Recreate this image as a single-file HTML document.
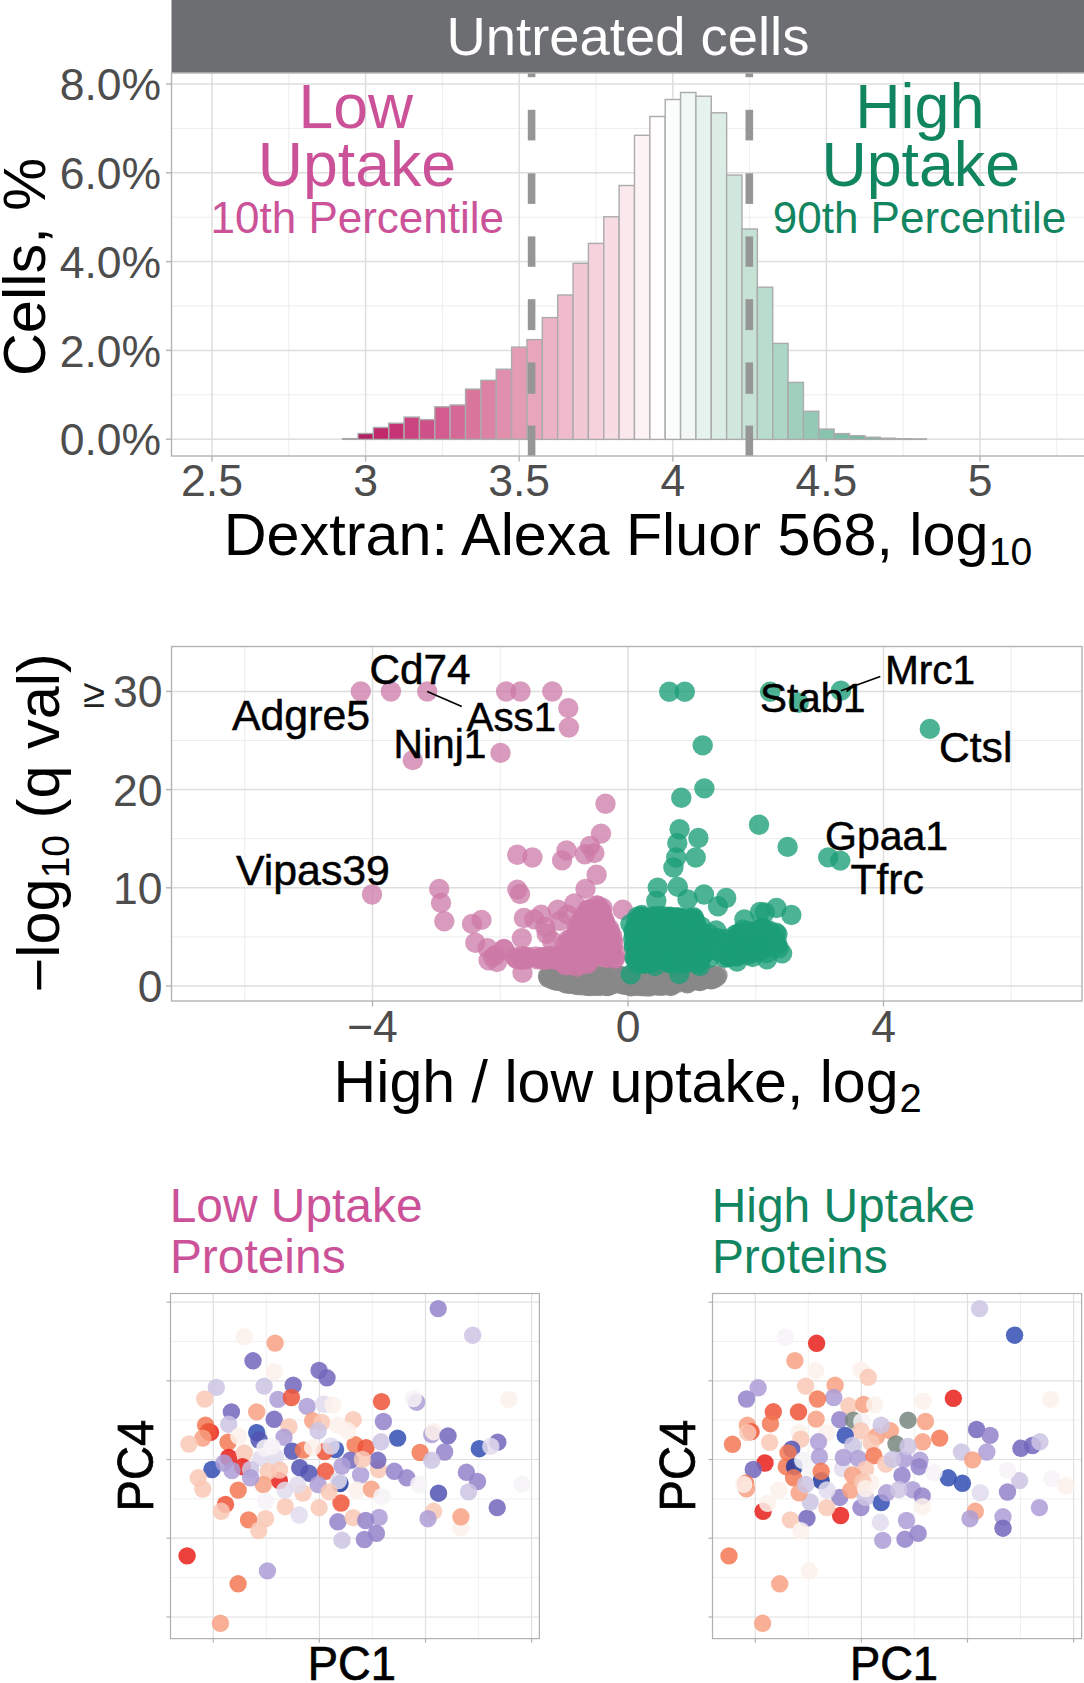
<!DOCTYPE html><html><head><meta charset="utf-8"><title>Dextran uptake</title><style>html,body{margin:0;padding:0;background:#fff}svg{display:block}text{font-family:"Liberation Sans", sans-serif}</style></head><body>
<svg width="1084" height="1683" viewBox="0 0 1084 1683">
<rect width="1084" height="1683" fill="#fff"/>
<rect x="171.5" y="0" width="912.5" height="72.8" fill="#6d6e71"/>
<text x="628" y="55" font-size="54.4" fill="#fff" text-anchor="middle">Untreated cells</text>
<g id="p1">
<clipPath id="c1"><rect x="171.5" y="73" width="912.5" height="383"/></clipPath>
<g clip-path="url(#c1)">
<line x1="288.8" x2="288.8" y1="73" y2="456" stroke="#ebebeb" stroke-width="0.9"/>
<line x1="442.4" x2="442.4" y1="73" y2="456" stroke="#ebebeb" stroke-width="0.9"/>
<line x1="596.0" x2="596.0" y1="73" y2="456" stroke="#ebebeb" stroke-width="0.9"/>
<line x1="749.6" x2="749.6" y1="73" y2="456" stroke="#ebebeb" stroke-width="0.9"/>
<line x1="903.2" x2="903.2" y1="73" y2="456" stroke="#ebebeb" stroke-width="0.9"/>
<line x1="1056.8" x2="1056.8" y1="73" y2="456" stroke="#ebebeb" stroke-width="0.9"/>
<line x1="171.5" x2="1084" y1="394.8" y2="394.8" stroke="#ebebeb" stroke-width="0.9"/>
<line x1="171.5" x2="1084" y1="306.0" y2="306.0" stroke="#ebebeb" stroke-width="0.9"/>
<line x1="171.5" x2="1084" y1="217.2" y2="217.2" stroke="#ebebeb" stroke-width="0.9"/>
<line x1="171.5" x2="1084" y1="128.4" y2="128.4" stroke="#ebebeb" stroke-width="0.9"/>
<line x1="212.0" x2="212.0" y1="73" y2="456" stroke="#dedede" stroke-width="1.5"/>
<line x1="365.6" x2="365.6" y1="73" y2="456" stroke="#dedede" stroke-width="1.5"/>
<line x1="519.2" x2="519.2" y1="73" y2="456" stroke="#dedede" stroke-width="1.5"/>
<line x1="672.8" x2="672.8" y1="73" y2="456" stroke="#dedede" stroke-width="1.5"/>
<line x1="826.4" x2="826.4" y1="73" y2="456" stroke="#dedede" stroke-width="1.5"/>
<line x1="980.0" x2="980.0" y1="73" y2="456" stroke="#dedede" stroke-width="1.5"/>
<line x1="171.5" x2="1084" y1="439.2" y2="439.2" stroke="#dedede" stroke-width="1.5"/>
<line x1="171.5" x2="1084" y1="350.4" y2="350.4" stroke="#dedede" stroke-width="1.5"/>
<line x1="171.5" x2="1084" y1="261.6" y2="261.6" stroke="#dedede" stroke-width="1.5"/>
<line x1="171.5" x2="1084" y1="172.8" y2="172.8" stroke="#dedede" stroke-width="1.5"/>
<line x1="171.5" x2="1084" y1="84.0" y2="84.0" stroke="#dedede" stroke-width="1.5"/>
<rect x="342.64" y="438.6" width="15.36" height="0.80" fill="#aaa" stroke="#a6a6a6" stroke-width="1.3"/>
<rect x="358.00" y="433.5" width="15.36" height="5.9" fill="#b02062" stroke="#acabac" stroke-width="1.4"/>
<rect x="373.36" y="427.5" width="15.36" height="11.9" fill="#c1286c" stroke="#acabac" stroke-width="1.4"/>
<rect x="388.72" y="423.2" width="15.36" height="16.2" fill="#c63476" stroke="#acabac" stroke-width="1.4"/>
<rect x="404.08" y="417.1" width="15.36" height="22.3" fill="#cb4480" stroke="#acabac" stroke-width="1.4"/>
<rect x="419.44" y="419.6" width="15.36" height="19.8" fill="#ce5088" stroke="#acabac" stroke-width="1.4"/>
<rect x="434.80" y="406.8" width="15.36" height="32.6" fill="#d25c90" stroke="#acabac" stroke-width="1.4"/>
<rect x="450.16" y="405.0" width="15.36" height="34.4" fill="#d56896" stroke="#acabac" stroke-width="1.4"/>
<rect x="465.52" y="389.1" width="15.36" height="50.3" fill="#d8769c" stroke="#acabac" stroke-width="1.4"/>
<rect x="480.88" y="380.3" width="15.36" height="59.1" fill="#dc82a3" stroke="#acabac" stroke-width="1.4"/>
<rect x="496.24" y="369.2" width="15.36" height="70.2" fill="#e08fac" stroke="#acabac" stroke-width="1.4"/>
<rect x="511.60" y="347.1" width="15.36" height="92.3" fill="#e49bb4" stroke="#acabac" stroke-width="1.4"/>
<rect x="526.96" y="339.6" width="15.36" height="99.8" fill="#e8a6bc" stroke="#acabac" stroke-width="1.4"/>
<rect x="542.32" y="317.6" width="15.36" height="121.8" fill="#ecb2c6" stroke="#acabac" stroke-width="1.4"/>
<rect x="557.68" y="295.0" width="15.36" height="144.4" fill="#f0bccd" stroke="#acabac" stroke-width="1.4"/>
<rect x="573.04" y="263.3" width="15.36" height="176.1" fill="#f2c8d4" stroke="#acabac" stroke-width="1.4"/>
<rect x="588.40" y="243.4" width="15.36" height="196.0" fill="#f5d2dc" stroke="#acabac" stroke-width="1.4"/>
<rect x="603.76" y="216.8" width="15.36" height="222.6" fill="#f8dce4" stroke="#acabac" stroke-width="1.4"/>
<rect x="619.12" y="185.5" width="15.36" height="253.9" fill="#fae8ec" stroke="#acabac" stroke-width="1.4"/>
<rect x="634.48" y="135.3" width="15.36" height="304.1" fill="#fdf3f5" stroke="#acabac" stroke-width="1.4"/>
<rect x="649.84" y="116.5" width="15.36" height="322.9" fill="#fffdfd" stroke="#acabac" stroke-width="1.4"/>
<rect x="665.20" y="99.5" width="15.36" height="339.9" fill="#fafdfc" stroke="#acabac" stroke-width="1.4"/>
<rect x="680.56" y="92.5" width="15.36" height="346.9" fill="#f0f7f4" stroke="#acabac" stroke-width="1.4"/>
<rect x="695.92" y="96.2" width="15.36" height="343.2" fill="#e6f2ed" stroke="#acabac" stroke-width="1.4"/>
<rect x="711.28" y="112.8" width="15.36" height="326.6" fill="#dcede6" stroke="#acabac" stroke-width="1.4"/>
<rect x="726.64" y="175.1" width="15.36" height="264.3" fill="#d0e7dd" stroke="#acabac" stroke-width="1.4"/>
<rect x="742.00" y="229.0" width="15.36" height="210.4" fill="#c5e2d5" stroke="#acabac" stroke-width="1.4"/>
<rect x="757.36" y="287.2" width="15.36" height="152.2" fill="#b8dccd" stroke="#acabac" stroke-width="1.4"/>
<rect x="772.72" y="343.4" width="15.36" height="96.0" fill="#acd6c5" stroke="#acabac" stroke-width="1.4"/>
<rect x="788.08" y="382.4" width="15.36" height="57.0" fill="#a0d0bd" stroke="#acabac" stroke-width="1.4"/>
<rect x="803.44" y="411.3" width="15.36" height="28.1" fill="#94cab5" stroke="#acabac" stroke-width="1.4"/>
<rect x="818.80" y="429.1" width="15.36" height="10.3" fill="#88c4ad" stroke="#acabac" stroke-width="1.4"/>
<rect x="834.16" y="433.6" width="15.36" height="5.8" fill="#7ebea6" stroke="#acabac" stroke-width="1.4"/>
<rect x="849.52" y="435.7" width="15.36" height="3.7" fill="#76baa0" stroke="#acabac" stroke-width="1.4"/>
<rect x="864.88" y="437.2" width="15.36" height="2.2" fill="#76baa0" stroke="#acabac" stroke-width="1.4"/>
<rect x="880.24" y="438.2" width="15.36" height="1.2" fill="#76baa0" stroke="#acabac" stroke-width="1.4"/>
<rect x="895.60" y="438.7" width="15.36" height="0.7" fill="#76baa0" stroke="#acabac" stroke-width="1.4"/>
<rect x="910.96" y="438.9" width="15.36" height="0.5" fill="#76baa0" stroke="#acabac" stroke-width="1.4"/>
<rect x="527.8" y="46.3" width="7.6" height="30.9" fill="#969696"/>
<rect x="527.8" y="109.8" width="7.6" height="30.6" fill="#969696"/>
<rect x="527.8" y="173.3" width="7.6" height="30.6" fill="#969696"/>
<rect x="527.8" y="236.4" width="7.6" height="30.4" fill="#969696"/>
<rect x="527.8" y="299.2" width="7.6" height="30.9" fill="#969696"/>
<rect x="527.8" y="362.4" width="7.6" height="31.4" fill="#969696"/>
<rect x="527.8" y="425.6" width="7.6" height="31.4" fill="#969696"/>
<rect x="745.5" y="46.3" width="7.6" height="30.9" fill="#969696"/>
<rect x="745.5" y="109.8" width="7.6" height="30.6" fill="#969696"/>
<rect x="745.5" y="173.3" width="7.6" height="30.6" fill="#969696"/>
<rect x="745.5" y="236.4" width="7.6" height="30.4" fill="#969696"/>
<rect x="745.5" y="299.2" width="7.6" height="30.9" fill="#969696"/>
<rect x="745.5" y="362.4" width="7.6" height="31.4" fill="#969696"/>
<rect x="745.5" y="425.6" width="7.6" height="31.4" fill="#969696"/>
</g>
<g fill="#cb5298" text-anchor="middle"><text x="355.8" y="128.2" font-size="62.4">Low</text><text x="357" y="185.8" font-size="62.6">Uptake</text><text x="357.3" y="233" font-size="44">10th Percentile</text></g>
<g fill="#118560" text-anchor="middle"><text x="919.8" y="128" font-size="62.8">High</text><text x="920.7" y="185.8" font-size="62.7">Uptake</text><text x="919.5" y="233" font-size="44">90th Percentile</text></g>
<rect x="171.5" y="73" width="917.5" height="383" fill="none" stroke="#b3b3b3" stroke-width="1.4"/>
<line x1="166.0" x2="171.5" y1="439.2" y2="439.2" stroke="#b3b3b3" stroke-width="1.4"/>
<text x="161.2" y="455.4" font-size="44.5" fill="#4d4d4d" text-anchor="end">0.0%</text>
<line x1="166.0" x2="171.5" y1="350.4" y2="350.4" stroke="#b3b3b3" stroke-width="1.4"/>
<text x="161.2" y="366.6" font-size="44.5" fill="#4d4d4d" text-anchor="end">2.0%</text>
<line x1="166.0" x2="171.5" y1="261.6" y2="261.6" stroke="#b3b3b3" stroke-width="1.4"/>
<text x="161.2" y="277.8" font-size="44.5" fill="#4d4d4d" text-anchor="end">4.0%</text>
<line x1="166.0" x2="171.5" y1="172.8" y2="172.8" stroke="#b3b3b3" stroke-width="1.4"/>
<text x="161.2" y="189.0" font-size="44.5" fill="#4d4d4d" text-anchor="end">6.0%</text>
<line x1="166.0" x2="171.5" y1="84.0" y2="84.0" stroke="#b3b3b3" stroke-width="1.4"/>
<text x="161.2" y="100.2" font-size="44.5" fill="#4d4d4d" text-anchor="end">8.0%</text>
<line x1="212.0" x2="212.0" y1="456" y2="461.5" stroke="#b3b3b3" stroke-width="1.4"/>
<text x="212.0" y="495.6" font-size="44.5" fill="#4d4d4d" text-anchor="middle">2.5</text>
<line x1="365.6" x2="365.6" y1="456" y2="461.5" stroke="#b3b3b3" stroke-width="1.4"/>
<text x="365.6" y="495.6" font-size="44.5" fill="#4d4d4d" text-anchor="middle">3</text>
<line x1="519.2" x2="519.2" y1="456" y2="461.5" stroke="#b3b3b3" stroke-width="1.4"/>
<text x="519.2" y="495.6" font-size="44.5" fill="#4d4d4d" text-anchor="middle">3.5</text>
<line x1="672.8" x2="672.8" y1="456" y2="461.5" stroke="#b3b3b3" stroke-width="1.4"/>
<text x="672.8" y="495.6" font-size="44.5" fill="#4d4d4d" text-anchor="middle">4</text>
<line x1="826.4" x2="826.4" y1="456" y2="461.5" stroke="#b3b3b3" stroke-width="1.4"/>
<text x="826.4" y="495.6" font-size="44.5" fill="#4d4d4d" text-anchor="middle">4.5</text>
<line x1="980.0" x2="980.0" y1="456" y2="461.5" stroke="#b3b3b3" stroke-width="1.4"/>
<text x="980.0" y="495.6" font-size="44.5" fill="#4d4d4d" text-anchor="middle">5</text>
<text x="223.8" y="554.8" font-size="59.3" fill="#000">Dextran: Alexa Fluor 568, log<tspan font-size="39" dy="10.2" dx="0.3">10</tspan></text>
<text transform="translate(45,267) rotate(-90)" font-size="59.5" fill="#000" text-anchor="middle">Cells, %</text>
</g>
<g id="p2">
<line x1="244.8" x2="244.8" y1="646.5" y2="1001" stroke="#ebebeb" stroke-width="0.9"/>
<line x1="500.2" x2="500.2" y1="646.5" y2="1001" stroke="#ebebeb" stroke-width="0.9"/>
<line x1="755.8" x2="755.8" y1="646.5" y2="1001" stroke="#ebebeb" stroke-width="0.9"/>
<line x1="1011.2" x2="1011.2" y1="646.5" y2="1001" stroke="#ebebeb" stroke-width="0.9"/>
<line x1="171.5" x2="1082" y1="936.9" y2="936.9" stroke="#ebebeb" stroke-width="0.9"/>
<line x1="171.5" x2="1082" y1="838.7" y2="838.7" stroke="#ebebeb" stroke-width="0.9"/>
<line x1="171.5" x2="1082" y1="740.5" y2="740.5" stroke="#ebebeb" stroke-width="0.9"/>
<line x1="372.5" x2="372.5" y1="646.5" y2="1001" stroke="#dedede" stroke-width="1.5"/>
<line x1="628.0" x2="628.0" y1="646.5" y2="1001" stroke="#dedede" stroke-width="1.5"/>
<line x1="883.5" x2="883.5" y1="646.5" y2="1001" stroke="#dedede" stroke-width="1.5"/>
<line x1="171.5" x2="1082" y1="986.0" y2="986.0" stroke="#dedede" stroke-width="1.5"/>
<line x1="171.5" x2="1082" y1="887.8" y2="887.8" stroke="#dedede" stroke-width="1.5"/>
<line x1="171.5" x2="1082" y1="789.6" y2="789.6" stroke="#dedede" stroke-width="1.5"/>
<line x1="171.5" x2="1082" y1="691.4" y2="691.4" stroke="#dedede" stroke-width="1.5"/>
<g fill="#888888" fill-opacity="0.8">
<circle cx="603.1" cy="984.6" r="10.2"/>
<circle cx="658.7" cy="985.5" r="10.2"/>
<circle cx="639.1" cy="982.2" r="10.2"/>
<circle cx="557.9" cy="980.6" r="10.2"/>
<circle cx="620.2" cy="977.0" r="10.2"/>
<circle cx="569.0" cy="983.8" r="10.2"/>
<circle cx="654.7" cy="975.6" r="10.2"/>
<circle cx="646.1" cy="981.8" r="10.2"/>
<circle cx="600.4" cy="977.1" r="10.2"/>
<circle cx="578.7" cy="979.7" r="10.2"/>
<circle cx="656.6" cy="982.1" r="10.2"/>
<circle cx="641.1" cy="985.6" r="10.2"/>
<circle cx="663.7" cy="981.5" r="10.2"/>
<circle cx="601.4" cy="979.7" r="10.2"/>
<circle cx="625.0" cy="982.9" r="10.2"/>
<circle cx="683.0" cy="978.4" r="10.2"/>
<circle cx="589.5" cy="979.8" r="10.2"/>
<circle cx="637.3" cy="976.4" r="10.2"/>
<circle cx="672.0" cy="983.0" r="10.2"/>
<circle cx="619.1" cy="977.7" r="10.2"/>
<circle cx="573.8" cy="980.8" r="10.2"/>
<circle cx="554.7" cy="978.7" r="10.2"/>
<circle cx="678.0" cy="979.8" r="10.2"/>
<circle cx="666.2" cy="979.6" r="10.2"/>
<circle cx="646.6" cy="981.1" r="10.2"/>
<circle cx="690.8" cy="975.6" r="10.2"/>
<circle cx="628.6" cy="978.8" r="10.2"/>
<circle cx="558.3" cy="978.4" r="10.2"/>
<circle cx="687.7" cy="983.1" r="10.2"/>
<circle cx="613.6" cy="978.7" r="10.2"/>
<circle cx="576.6" cy="985.0" r="10.2"/>
<circle cx="558.0" cy="977.6" r="10.2"/>
<circle cx="570.0" cy="983.5" r="10.2"/>
<circle cx="614.5" cy="976.5" r="10.2"/>
<circle cx="561.7" cy="981.2" r="10.2"/>
<circle cx="641.4" cy="976.3" r="10.2"/>
<circle cx="687.3" cy="976.5" r="10.2"/>
<circle cx="595.3" cy="981.6" r="10.2"/>
<circle cx="609.0" cy="976.3" r="10.2"/>
<circle cx="578.0" cy="983.7" r="10.2"/>
<circle cx="587.7" cy="980.8" r="10.2"/>
<circle cx="648.2" cy="983.3" r="10.2"/>
<circle cx="610.8" cy="979.9" r="10.2"/>
<circle cx="710.0" cy="978.5" r="10.2"/>
<circle cx="635.6" cy="979.3" r="10.2"/>
<circle cx="663.0" cy="985.7" r="10.2"/>
<circle cx="700.9" cy="977.5" r="10.2"/>
<circle cx="696.7" cy="977.3" r="10.2"/>
<circle cx="614.7" cy="981.8" r="10.2"/>
<circle cx="565.6" cy="979.1" r="10.2"/>
<circle cx="583.5" cy="984.5" r="10.2"/>
<circle cx="605.8" cy="985.7" r="10.2"/>
<circle cx="565.2" cy="982.2" r="10.2"/>
<circle cx="552.3" cy="976.4" r="10.2"/>
<circle cx="652.4" cy="984.6" r="10.2"/>
<circle cx="590.9" cy="982.4" r="10.2"/>
<circle cx="609.9" cy="984.9" r="10.2"/>
<circle cx="692.3" cy="975.1" r="10.2"/>
<circle cx="627.2" cy="980.8" r="10.2"/>
<circle cx="606.2" cy="983.3" r="10.2"/>
<circle cx="637.8" cy="984.6" r="10.2"/>
<circle cx="640.3" cy="986.0" r="10.2"/>
<circle cx="637.8" cy="975.2" r="10.2"/>
<circle cx="694.8" cy="978.4" r="10.2"/>
<circle cx="592.4" cy="982.2" r="10.2"/>
<circle cx="576.4" cy="977.6" r="10.2"/>
<circle cx="638.5" cy="977.5" r="10.2"/>
<circle cx="604.0" cy="983.8" r="10.2"/>
<circle cx="686.0" cy="975.2" r="10.2"/>
<circle cx="692.9" cy="977.2" r="10.2"/>
<circle cx="687.1" cy="977.9" r="10.2"/>
<circle cx="586.5" cy="980.5" r="10.2"/>
<circle cx="608.4" cy="986.0" r="10.2"/>
<circle cx="592.1" cy="978.5" r="10.2"/>
<circle cx="585.5" cy="983.7" r="10.2"/>
<circle cx="581.4" cy="984.0" r="10.2"/>
<circle cx="654.1" cy="976.1" r="10.2"/>
<circle cx="690.9" cy="980.9" r="10.2"/>
<circle cx="659.0" cy="977.3" r="10.2"/>
<circle cx="562.4" cy="978.8" r="10.2"/>
<circle cx="702.7" cy="977.5" r="10.2"/>
<circle cx="675.5" cy="980.9" r="10.2"/>
<circle cx="578.3" cy="977.4" r="10.2"/>
<circle cx="604.5" cy="977.3" r="10.2"/>
<circle cx="616.2" cy="975.6" r="10.2"/>
<circle cx="671.2" cy="984.4" r="10.2"/>
<circle cx="701.8" cy="977.2" r="10.2"/>
<circle cx="572.8" cy="977.0" r="10.2"/>
<circle cx="607.6" cy="980.1" r="10.2"/>
<circle cx="713.1" cy="979.0" r="10.2"/>
<circle cx="637.5" cy="975.8" r="10.2"/>
<circle cx="621.7" cy="976.4" r="10.2"/>
<circle cx="590.8" cy="983.0" r="10.2"/>
<circle cx="588.9" cy="979.7" r="10.2"/>
<circle cx="592.1" cy="981.6" r="10.2"/>
<circle cx="570.3" cy="976.0" r="10.2"/>
<circle cx="608.1" cy="981.1" r="10.2"/>
<circle cx="647.2" cy="976.1" r="10.2"/>
<circle cx="619.5" cy="975.9" r="10.2"/>
<circle cx="633.3" cy="980.3" r="10.2"/>
<circle cx="637.0" cy="986.1" r="10.2"/>
<circle cx="622.8" cy="984.2" r="10.2"/>
<circle cx="548.7" cy="977.3" r="10.2"/>
<circle cx="577.3" cy="980.9" r="10.2"/>
<circle cx="671.3" cy="980.0" r="10.2"/>
<circle cx="603.4" cy="980.4" r="10.2"/>
<circle cx="642.4" cy="977.4" r="10.2"/>
<circle cx="566.0" cy="980.0" r="10.2"/>
<circle cx="590.2" cy="983.2" r="10.2"/>
<circle cx="679.3" cy="980.6" r="10.2"/>
<circle cx="643.5" cy="977.7" r="10.2"/>
<circle cx="652.1" cy="980.6" r="10.2"/>
<circle cx="635.1" cy="978.5" r="10.2"/>
<circle cx="624.9" cy="980.3" r="10.2"/>
<circle cx="629.3" cy="975.7" r="10.2"/>
<circle cx="666.9" cy="976.4" r="10.2"/>
<circle cx="643.1" cy="975.6" r="10.2"/>
<circle cx="568.7" cy="981.3" r="10.2"/>
<circle cx="560.4" cy="978.7" r="10.2"/>
<circle cx="681.3" cy="976.2" r="10.2"/>
<circle cx="574.3" cy="978.2" r="10.2"/>
<circle cx="660.2" cy="984.7" r="10.2"/>
<circle cx="698.1" cy="975.4" r="10.2"/>
<circle cx="585.3" cy="975.5" r="10.2"/>
<circle cx="615.7" cy="980.8" r="10.2"/>
<circle cx="716.3" cy="976.9" r="10.2"/>
<circle cx="575.4" cy="981.4" r="10.2"/>
<circle cx="635.7" cy="982.5" r="10.2"/>
<circle cx="581.3" cy="982.7" r="10.2"/>
<circle cx="670.8" cy="986.1" r="10.2"/>
<circle cx="642.2" cy="981.3" r="10.2"/>
<circle cx="654.1" cy="980.5" r="10.2"/>
<circle cx="682.0" cy="975.3" r="10.2"/>
<circle cx="565.8" cy="983.3" r="10.2"/>
<circle cx="554.7" cy="977.5" r="10.2"/>
<circle cx="594.0" cy="984.8" r="10.2"/>
<circle cx="619.8" cy="976.0" r="10.2"/>
<circle cx="687.2" cy="983.4" r="10.2"/>
<circle cx="573.4" cy="975.9" r="10.2"/>
<circle cx="645.0" cy="978.4" r="10.2"/>
<circle cx="665.0" cy="981.5" r="10.2"/>
<circle cx="560.3" cy="975.7" r="10.2"/>
<circle cx="655.9" cy="977.2" r="10.2"/>
<circle cx="562.2" cy="976.6" r="10.2"/>
<circle cx="559.3" cy="976.6" r="10.2"/>
<circle cx="625.1" cy="982.5" r="10.2"/>
<circle cx="642.0" cy="975.8" r="10.2"/>
<circle cx="593.5" cy="984.8" r="10.2"/>
<circle cx="637.6" cy="983.6" r="10.2"/>
<circle cx="601.0" cy="982.9" r="10.2"/>
<circle cx="677.1" cy="983.0" r="10.2"/>
<circle cx="633.0" cy="984.3" r="10.2"/>
<circle cx="607.0" cy="986.1" r="10.2"/>
<circle cx="590.6" cy="986.1" r="10.2"/>
<circle cx="672.6" cy="980.1" r="10.2"/>
<circle cx="580.2" cy="980.9" r="10.2"/>
<circle cx="687.2" cy="981.4" r="10.2"/>
<circle cx="632.2" cy="976.9" r="10.2"/>
<circle cx="614.8" cy="980.6" r="10.2"/>
<circle cx="664.9" cy="975.2" r="10.2"/>
<circle cx="606.3" cy="976.9" r="10.2"/>
<circle cx="668.1" cy="979.1" r="10.2"/>
<circle cx="616.8" cy="982.4" r="10.2"/>
<circle cx="560.0" cy="977.9" r="10.2"/>
<circle cx="591.5" cy="984.5" r="10.2"/>
<circle cx="562.4" cy="976.8" r="10.2"/>
<circle cx="696.0" cy="978.7" r="10.2"/>
<circle cx="595.9" cy="983.6" r="10.2"/>
<circle cx="597.8" cy="981.1" r="10.2"/>
<circle cx="574.8" cy="981.3" r="10.2"/>
<circle cx="592.8" cy="975.4" r="10.2"/>
<circle cx="589.6" cy="975.4" r="10.2"/>
<circle cx="600.6" cy="982.3" r="10.2"/>
<circle cx="628.7" cy="980.6" r="10.2"/>
<circle cx="582.2" cy="980.6" r="10.2"/>
<circle cx="563.3" cy="981.8" r="10.2"/>
<circle cx="599.7" cy="983.7" r="10.2"/>
<circle cx="647.5" cy="980.3" r="10.2"/>
<circle cx="675.6" cy="978.9" r="10.2"/>
<circle cx="669.7" cy="976.4" r="10.2"/>
<circle cx="614.2" cy="982.6" r="10.2"/>
<circle cx="671.1" cy="979.0" r="10.2"/>
<circle cx="555.4" cy="976.9" r="10.2"/>
<circle cx="699.6" cy="979.2" r="10.2"/>
<circle cx="672.8" cy="977.1" r="10.2"/>
<circle cx="571.7" cy="980.4" r="10.2"/>
<circle cx="633.7" cy="976.9" r="10.2"/>
<circle cx="684.8" cy="977.0" r="10.2"/>
<circle cx="647.3" cy="976.2" r="10.2"/>
<circle cx="664.1" cy="978.5" r="10.2"/>
<circle cx="587.1" cy="985.9" r="10.2"/>
<circle cx="570.6" cy="982.2" r="10.2"/>
<circle cx="565.8" cy="976.9" r="10.2"/>
<circle cx="642.9" cy="979.2" r="10.2"/>
<circle cx="654.5" cy="978.6" r="10.2"/>
<circle cx="631.2" cy="986.3" r="10.2"/>
<circle cx="683.6" cy="977.8" r="10.2"/>
<circle cx="633.5" cy="980.3" r="10.2"/>
<circle cx="660.1" cy="985.6" r="10.2"/>
<circle cx="673.3" cy="983.5" r="10.2"/>
<circle cx="672.0" cy="984.0" r="10.2"/>
<circle cx="673.8" cy="975.3" r="10.2"/>
<circle cx="632.0" cy="982.0" r="10.2"/>
<circle cx="629.4" cy="978.6" r="10.2"/>
<circle cx="678.4" cy="979.3" r="10.2"/>
<circle cx="657.3" cy="985.4" r="10.2"/>
<circle cx="573.1" cy="983.4" r="10.2"/>
<circle cx="674.3" cy="982.9" r="10.2"/>
<circle cx="644.5" cy="986.2" r="10.2"/>
<circle cx="662.2" cy="978.5" r="10.2"/>
<circle cx="662.9" cy="983.0" r="10.2"/>
<circle cx="635.8" cy="981.0" r="10.2"/>
<circle cx="627.3" cy="985.0" r="10.2"/>
<circle cx="714.3" cy="975.7" r="10.2"/>
<circle cx="687.4" cy="975.4" r="10.2"/>
<circle cx="624.4" cy="983.3" r="10.2"/>
<circle cx="583.7" cy="975.6" r="10.2"/>
<circle cx="583.8" cy="979.7" r="10.2"/>
<circle cx="572.1" cy="980.4" r="10.2"/>
<circle cx="687.4" cy="980.6" r="10.2"/>
<circle cx="698.8" cy="978.4" r="10.2"/>
<circle cx="587.3" cy="976.2" r="10.2"/>
<circle cx="630.6" cy="986.0" r="10.2"/>
<circle cx="624.6" cy="982.9" r="10.2"/>
<circle cx="571.9" cy="982.4" r="10.2"/>
<circle cx="601.7" cy="976.8" r="10.2"/>
<circle cx="705.5" cy="978.2" r="10.2"/>
<circle cx="611.3" cy="981.9" r="10.2"/>
<circle cx="609.3" cy="981.5" r="10.2"/>
<circle cx="594.8" cy="985.8" r="10.2"/>
<circle cx="565.3" cy="976.9" r="10.2"/>
<circle cx="596.6" cy="975.7" r="10.2"/>
<circle cx="590.4" cy="983.3" r="10.2"/>
<circle cx="634.9" cy="984.2" r="10.2"/>
<circle cx="611.5" cy="975.5" r="10.2"/>
<circle cx="698.3" cy="977.1" r="10.2"/>
<circle cx="655.3" cy="976.0" r="10.2"/>
<circle cx="670.3" cy="985.7" r="10.2"/>
<circle cx="672.5" cy="981.2" r="10.2"/>
<circle cx="676.0" cy="979.0" r="10.2"/>
<circle cx="596.7" cy="985.7" r="10.2"/>
<circle cx="628.3" cy="982.4" r="10.2"/>
<circle cx="598.6" cy="977.9" r="10.2"/>
<circle cx="659.5" cy="982.9" r="10.2"/>
<circle cx="642.7" cy="981.8" r="10.2"/>
<circle cx="576.4" cy="984.5" r="10.2"/>
<circle cx="583.3" cy="976.1" r="10.2"/>
<circle cx="632.5" cy="983.8" r="10.2"/>
<circle cx="624.5" cy="984.7" r="10.2"/>
<circle cx="580.7" cy="985.3" r="10.2"/>
<circle cx="606.1" cy="985.3" r="10.2"/>
<circle cx="588.7" cy="983.4" r="10.2"/>
<circle cx="644.8" cy="976.3" r="10.2"/>
<circle cx="675.4" cy="981.6" r="10.2"/>
<circle cx="618.4" cy="980.4" r="10.2"/>
<circle cx="612.1" cy="982.5" r="10.2"/>
<circle cx="633.6" cy="979.2" r="10.2"/>
<circle cx="594.1" cy="983.5" r="10.2"/>
<circle cx="616.0" cy="981.3" r="10.2"/>
<circle cx="710.2" cy="976.7" r="10.2"/>
<circle cx="553.5" cy="978.3" r="10.2"/>
<circle cx="700.3" cy="981.0" r="10.2"/>
<circle cx="647.8" cy="986.3" r="10.2"/>
<circle cx="614.6" cy="975.8" r="10.2"/>
<circle cx="688.4" cy="976.6" r="10.2"/>
<circle cx="636.8" cy="978.6" r="10.2"/>
<circle cx="708.1" cy="978.1" r="10.2"/>
<circle cx="658.0" cy="977.7" r="10.2"/>
<circle cx="625.7" cy="980.1" r="10.2"/>
<circle cx="554.7" cy="977.5" r="10.2"/>
<circle cx="587.5" cy="975.9" r="10.2"/>
<circle cx="657.7" cy="982.9" r="10.2"/>
<circle cx="569.8" cy="983.5" r="10.2"/>
<circle cx="656.2" cy="978.4" r="10.2"/>
<circle cx="637.2" cy="979.7" r="10.2"/>
<circle cx="614.0" cy="983.8" r="10.2"/>
<circle cx="650.2" cy="986.2" r="10.2"/>
<circle cx="599.3" cy="981.1" r="10.2"/>
<circle cx="711.0" cy="979.0" r="10.2"/>
<circle cx="698.2" cy="980.9" r="10.2"/>
<circle cx="587.9" cy="983.5" r="10.2"/>
<circle cx="711.3" cy="978.3" r="10.2"/>
<circle cx="600.3" cy="986.1" r="10.2"/>
<circle cx="632.7" cy="978.7" r="10.2"/>
<circle cx="619.4" cy="983.4" r="10.2"/>
<circle cx="661.5" cy="975.8" r="10.2"/>
<circle cx="586.6" cy="985.9" r="10.2"/>
<circle cx="605.5" cy="981.5" r="10.2"/>
<circle cx="664.0" cy="984.1" r="10.2"/>
<circle cx="683.5" cy="977.9" r="10.2"/>
<circle cx="633.8" cy="984.0" r="10.2"/>
<circle cx="585.6" cy="977.7" r="10.2"/>
<circle cx="598.1" cy="975.5" r="10.2"/>
<circle cx="632.3" cy="984.2" r="10.2"/>
<circle cx="586.0" cy="981.6" r="10.2"/>
<circle cx="661.1" cy="975.6" r="10.2"/>
<circle cx="572.9" cy="981.9" r="10.2"/>
<circle cx="700.7" cy="976.3" r="10.2"/>
<circle cx="579.5" cy="975.7" r="10.2"/>
<circle cx="661.0" cy="982.0" r="10.2"/>
<circle cx="611.6" cy="982.6" r="10.2"/>
<circle cx="595.6" cy="982.3" r="10.2"/>
<circle cx="608.6" cy="977.0" r="10.2"/>
<circle cx="687.7" cy="981.4" r="10.2"/>
<circle cx="556.4" cy="980.9" r="10.2"/>
<circle cx="611.4" cy="975.9" r="10.2"/>
<circle cx="580.8" cy="982.2" r="10.2"/>
<circle cx="617.8" cy="977.1" r="10.2"/>
<circle cx="675.0" cy="976.1" r="10.2"/>
<circle cx="605.6" cy="983.2" r="10.2"/>
<circle cx="710.8" cy="979.3" r="10.2"/>
<circle cx="592.6" cy="978.2" r="10.2"/>
<circle cx="601.8" cy="983.2" r="10.2"/>
<circle cx="548.6" cy="977.8" r="10.2"/>
<circle cx="703.8" cy="979.1" r="10.2"/>
<circle cx="587.8" cy="980.9" r="10.2"/>
<circle cx="710.7" cy="975.5" r="10.2"/>
<circle cx="613.7" cy="983.5" r="10.2"/>
<circle cx="621.1" cy="980.7" r="10.2"/>
<circle cx="684.4" cy="978.0" r="10.2"/>
<circle cx="687.9" cy="977.6" r="10.2"/>
<circle cx="651.2" cy="982.6" r="10.2"/>
<circle cx="602.3" cy="982.2" r="10.2"/>
<circle cx="581.5" cy="977.8" r="10.2"/>
<circle cx="590.0" cy="985.6" r="10.2"/>
<circle cx="553.8" cy="980.1" r="10.2"/>
<circle cx="698.2" cy="975.1" r="10.2"/>
<circle cx="593.0" cy="985.3" r="10.2"/>
<circle cx="564.4" cy="980.7" r="10.2"/>
<circle cx="668.7" cy="981.2" r="10.2"/>
<circle cx="548.0" cy="976.0" r="10.2"/>
<circle cx="552.0" cy="979.0" r="10.2"/>
<circle cx="717.5" cy="975.5" r="10.2"/>
<circle cx="712.0" cy="978.0" r="10.2"/>
<circle cx="700.0" cy="981.0" r="10.2"/>
</g>
<g fill="#cc79a7" fill-opacity="0.75">
<circle cx="360.8" cy="691.5" r="10.2"/>
<circle cx="390.9" cy="691.5" r="10.2"/>
<circle cx="427.2" cy="691.5" r="10.2"/>
<circle cx="506.1" cy="691.5" r="10.2"/>
<circle cx="520.5" cy="691.5" r="10.2"/>
<circle cx="552.3" cy="691.5" r="10.2"/>
<circle cx="568.3" cy="708.1" r="10.2"/>
<circle cx="568.9" cy="727.5" r="10.2"/>
<circle cx="500.5" cy="752.9" r="10.2"/>
<circle cx="412.8" cy="760.1" r="10.2"/>
<circle cx="605.5" cy="803.7" r="10.2"/>
<circle cx="601.0" cy="833.6" r="10.2"/>
<circle cx="590.0" cy="846.0" r="10.2"/>
<circle cx="584.9" cy="854.2" r="10.2"/>
<circle cx="594.4" cy="853.1" r="10.2"/>
<circle cx="566.5" cy="850.4" r="10.2"/>
<circle cx="562.1" cy="860.4" r="10.2"/>
<circle cx="517.3" cy="854.8" r="10.2"/>
<circle cx="532.4" cy="857.5" r="10.2"/>
<circle cx="596.6" cy="874.8" r="10.2"/>
<circle cx="585.5" cy="888.9" r="10.2"/>
<circle cx="439.2" cy="888.9" r="10.2"/>
<circle cx="441.0" cy="902.9" r="10.2"/>
<circle cx="444.3" cy="921.3" r="10.2"/>
<circle cx="517.3" cy="889.6" r="10.2"/>
<circle cx="520.0" cy="894.0" r="10.2"/>
<circle cx="472.0" cy="923.9" r="10.2"/>
<circle cx="481.5" cy="919.9" r="10.2"/>
<circle cx="475.3" cy="942.7" r="10.2"/>
<circle cx="487.5" cy="948.3" r="10.2"/>
<circle cx="493.0" cy="957.1" r="10.2"/>
<circle cx="488.6" cy="960.4" r="10.2"/>
<circle cx="504.0" cy="949.4" r="10.2"/>
<circle cx="521.8" cy="938.1" r="10.2"/>
<circle cx="523.9" cy="918.0" r="10.2"/>
<circle cx="534.3" cy="919.4" r="10.2"/>
<circle cx="541.2" cy="914.6" r="10.2"/>
<circle cx="546.7" cy="934.0" r="10.2"/>
<circle cx="545.3" cy="927.0" r="10.2"/>
<circle cx="557.8" cy="909.7" r="10.2"/>
<circle cx="567.5" cy="914.6" r="10.2"/>
<circle cx="574.4" cy="903.5" r="10.2"/>
<circle cx="622.8" cy="909.7" r="10.2"/>
<circle cx="522.5" cy="972.7" r="10.2"/>
<circle cx="515.0" cy="957.0" r="10.2"/>
<circle cx="372.0" cy="894.5" r="10.2"/>
<circle cx="495.5" cy="955.0" r="10.2"/>
<circle cx="503.8" cy="949.0" r="10.2"/>
<circle cx="497.0" cy="962.0" r="10.2"/>
<circle cx="560.0" cy="921.0" r="10.2"/>
<circle cx="552.0" cy="941.0" r="10.2"/>
<circle cx="525.8" cy="958.4" r="10.2"/>
<circle cx="542.1" cy="957.1" r="10.2"/>
<circle cx="547.4" cy="956.3" r="10.2"/>
<circle cx="543.9" cy="959.9" r="10.2"/>
<circle cx="551.3" cy="959.0" r="10.2"/>
<circle cx="539.8" cy="958.6" r="10.2"/>
<circle cx="547.0" cy="959.5" r="10.2"/>
<circle cx="526.4" cy="959.3" r="10.2"/>
<circle cx="522.4" cy="956.1" r="10.2"/>
<circle cx="540.3" cy="958.9" r="10.2"/>
<circle cx="537.3" cy="959.3" r="10.2"/>
<circle cx="550.0" cy="957.2" r="10.2"/>
<circle cx="557.6" cy="960.0" r="10.2"/>
<circle cx="535.9" cy="956.4" r="10.2"/>
<circle cx="551.3" cy="955.9" r="10.2"/>
<circle cx="517.7" cy="959.0" r="10.2"/>
<circle cx="521.0" cy="959.6" r="10.2"/>
<circle cx="556.9" cy="957.6" r="10.2"/>
<circle cx="555.1" cy="958.6" r="10.2"/>
<circle cx="552.4" cy="958.3" r="10.2"/>
<circle cx="526.9" cy="956.6" r="10.2"/>
<circle cx="555.7" cy="960.0" r="10.2"/>
<circle cx="541.0" cy="957.4" r="10.2"/>
<circle cx="525.1" cy="958.7" r="10.2"/>
<circle cx="521.9" cy="959.5" r="10.2"/>
<circle cx="526.7" cy="957.5" r="10.2"/>
<circle cx="543.4" cy="959.5" r="10.2"/>
<circle cx="516.5" cy="958.9" r="10.2"/>
<circle cx="598.7" cy="955.4" r="10.2"/>
<circle cx="576.7" cy="954.3" r="10.2"/>
<circle cx="605.7" cy="932.7" r="10.2"/>
<circle cx="561.8" cy="960.7" r="10.2"/>
<circle cx="581.7" cy="932.6" r="10.2"/>
<circle cx="582.6" cy="949.3" r="10.2"/>
<circle cx="576.7" cy="931.6" r="10.2"/>
<circle cx="579.4" cy="941.0" r="10.2"/>
<circle cx="579.8" cy="954.7" r="10.2"/>
<circle cx="601.7" cy="954.3" r="10.2"/>
<circle cx="583.4" cy="915.7" r="10.2"/>
<circle cx="585.7" cy="956.8" r="10.2"/>
<circle cx="596.4" cy="910.1" r="10.2"/>
<circle cx="580.3" cy="935.5" r="10.2"/>
<circle cx="566.8" cy="949.3" r="10.2"/>
<circle cx="589.3" cy="909.2" r="10.2"/>
<circle cx="569.8" cy="959.1" r="10.2"/>
<circle cx="587.0" cy="963.7" r="10.2"/>
<circle cx="613.6" cy="942.8" r="10.2"/>
<circle cx="607.5" cy="957.0" r="10.2"/>
<circle cx="605.1" cy="953.1" r="10.2"/>
<circle cx="607.8" cy="955.6" r="10.2"/>
<circle cx="571.1" cy="942.0" r="10.2"/>
<circle cx="589.1" cy="943.0" r="10.2"/>
<circle cx="565.4" cy="951.6" r="10.2"/>
<circle cx="601.5" cy="910.9" r="10.2"/>
<circle cx="594.0" cy="932.6" r="10.2"/>
<circle cx="595.6" cy="947.9" r="10.2"/>
<circle cx="583.2" cy="930.6" r="10.2"/>
<circle cx="583.5" cy="925.8" r="10.2"/>
<circle cx="584.8" cy="939.6" r="10.2"/>
<circle cx="587.4" cy="952.3" r="10.2"/>
<circle cx="603.8" cy="918.3" r="10.2"/>
<circle cx="585.5" cy="955.8" r="10.2"/>
<circle cx="586.4" cy="960.3" r="10.2"/>
<circle cx="602.0" cy="918.4" r="10.2"/>
<circle cx="588.2" cy="943.4" r="10.2"/>
<circle cx="615.1" cy="958.5" r="10.2"/>
<circle cx="601.9" cy="916.1" r="10.2"/>
<circle cx="613.0" cy="956.7" r="10.2"/>
<circle cx="603.4" cy="957.1" r="10.2"/>
<circle cx="611.8" cy="949.8" r="10.2"/>
<circle cx="606.9" cy="958.0" r="10.2"/>
<circle cx="588.1" cy="909.5" r="10.2"/>
<circle cx="570.5" cy="950.6" r="10.2"/>
<circle cx="588.4" cy="947.1" r="10.2"/>
<circle cx="560.2" cy="955.6" r="10.2"/>
<circle cx="598.8" cy="911.0" r="10.2"/>
<circle cx="596.2" cy="944.5" r="10.2"/>
<circle cx="610.4" cy="932.3" r="10.2"/>
<circle cx="592.8" cy="911.8" r="10.2"/>
<circle cx="595.8" cy="942.4" r="10.2"/>
<circle cx="605.9" cy="950.5" r="10.2"/>
<circle cx="584.5" cy="956.0" r="10.2"/>
<circle cx="607.2" cy="951.1" r="10.2"/>
<circle cx="596.4" cy="905.5" r="10.2"/>
<circle cx="593.2" cy="925.5" r="10.2"/>
<circle cx="576.8" cy="966.9" r="10.2"/>
<circle cx="560.0" cy="957.7" r="10.2"/>
<circle cx="595.0" cy="940.0" r="10.2"/>
<circle cx="588.8" cy="911.0" r="10.2"/>
<circle cx="565.9" cy="952.8" r="10.2"/>
<circle cx="564.4" cy="944.7" r="10.2"/>
<circle cx="593.3" cy="954.2" r="10.2"/>
<circle cx="595.4" cy="937.3" r="10.2"/>
<circle cx="572.6" cy="957.7" r="10.2"/>
<circle cx="582.1" cy="950.5" r="10.2"/>
<circle cx="591.7" cy="945.1" r="10.2"/>
<circle cx="596.7" cy="939.3" r="10.2"/>
<circle cx="582.4" cy="952.1" r="10.2"/>
<circle cx="614.5" cy="958.1" r="10.2"/>
<circle cx="588.4" cy="926.9" r="10.2"/>
<circle cx="606.8" cy="956.1" r="10.2"/>
<circle cx="576.6" cy="948.2" r="10.2"/>
<circle cx="605.0" cy="922.3" r="10.2"/>
<circle cx="602.7" cy="937.9" r="10.2"/>
<circle cx="602.5" cy="938.7" r="10.2"/>
<circle cx="571.6" cy="960.4" r="10.2"/>
<circle cx="571.9" cy="964.6" r="10.2"/>
<circle cx="599.7" cy="914.2" r="10.2"/>
<circle cx="600.7" cy="950.4" r="10.2"/>
<circle cx="591.2" cy="939.7" r="10.2"/>
<circle cx="605.3" cy="934.3" r="10.2"/>
<circle cx="615.9" cy="953.4" r="10.2"/>
<circle cx="573.6" cy="952.2" r="10.2"/>
<circle cx="602.6" cy="908.0" r="10.2"/>
<circle cx="602.8" cy="946.6" r="10.2"/>
<circle cx="610.8" cy="946.5" r="10.2"/>
<circle cx="595.8" cy="923.7" r="10.2"/>
<circle cx="597.9" cy="905.8" r="10.2"/>
<circle cx="586.2" cy="914.5" r="10.2"/>
<circle cx="599.9" cy="913.4" r="10.2"/>
<circle cx="584.2" cy="921.7" r="10.2"/>
<circle cx="592.2" cy="947.8" r="10.2"/>
<circle cx="566.7" cy="965.3" r="10.2"/>
<circle cx="578.7" cy="958.1" r="10.2"/>
<circle cx="599.6" cy="927.4" r="10.2"/>
<circle cx="599.8" cy="921.0" r="10.2"/>
<circle cx="564.4" cy="954.1" r="10.2"/>
<circle cx="564.7" cy="964.8" r="10.2"/>
<circle cx="596.1" cy="915.4" r="10.2"/>
<circle cx="595.9" cy="949.0" r="10.2"/>
<circle cx="564.0" cy="960.9" r="10.2"/>
<circle cx="603.4" cy="954.2" r="10.2"/>
<circle cx="577.1" cy="940.5" r="10.2"/>
<circle cx="580.1" cy="946.9" r="10.2"/>
<circle cx="609.1" cy="928.4" r="10.2"/>
<circle cx="584.2" cy="918.7" r="10.2"/>
<circle cx="578.8" cy="923.0" r="10.2"/>
<circle cx="590.3" cy="953.5" r="10.2"/>
<circle cx="607.2" cy="956.4" r="10.2"/>
<circle cx="587.5" cy="917.2" r="10.2"/>
<circle cx="575.0" cy="953.6" r="10.2"/>
<circle cx="600.0" cy="935.9" r="10.2"/>
<circle cx="599.8" cy="917.8" r="10.2"/>
<circle cx="595.7" cy="944.8" r="10.2"/>
<circle cx="582.1" cy="942.3" r="10.2"/>
<circle cx="570.4" cy="950.6" r="10.2"/>
<circle cx="612.1" cy="935.7" r="10.2"/>
<circle cx="572.0" cy="938.2" r="10.2"/>
<circle cx="589.9" cy="919.8" r="10.2"/>
<circle cx="603.2" cy="926.6" r="10.2"/>
<circle cx="578.9" cy="946.6" r="10.2"/>
<circle cx="597.7" cy="920.6" r="10.2"/>
<circle cx="568.2" cy="939.6" r="10.2"/>
<circle cx="604.4" cy="930.8" r="10.2"/>
<circle cx="611.1" cy="952.1" r="10.2"/>
<circle cx="569.5" cy="948.2" r="10.2"/>
<circle cx="600.2" cy="914.3" r="10.2"/>
<circle cx="567.3" cy="957.3" r="10.2"/>
<circle cx="572.9" cy="946.6" r="10.2"/>
<circle cx="589.3" cy="956.9" r="10.2"/>
<circle cx="577.7" cy="955.2" r="10.2"/>
<circle cx="602.0" cy="939.8" r="10.2"/>
<circle cx="564.4" cy="954.1" r="10.2"/>
<circle cx="581.3" cy="964.9" r="10.2"/>
<circle cx="599.6" cy="935.7" r="10.2"/>
<circle cx="595.9" cy="938.0" r="10.2"/>
<circle cx="582.3" cy="920.7" r="10.2"/>
<circle cx="612.5" cy="940.1" r="10.2"/>
<circle cx="592.4" cy="920.2" r="10.2"/>
<circle cx="583.3" cy="952.7" r="10.2"/>
<circle cx="601.3" cy="912.0" r="10.2"/>
<circle cx="604.4" cy="923.2" r="10.2"/>
<circle cx="596.5" cy="938.6" r="10.2"/>
<circle cx="576.8" cy="927.7" r="10.2"/>
<circle cx="604.9" cy="922.4" r="10.2"/>
<circle cx="595.8" cy="951.4" r="10.2"/>
<circle cx="583.4" cy="938.6" r="10.2"/>
<circle cx="595.3" cy="941.4" r="10.2"/>
<circle cx="598.5" cy="908.9" r="10.2"/>
<circle cx="604.7" cy="942.7" r="10.2"/>
<circle cx="590.5" cy="922.2" r="10.2"/>
<circle cx="588.7" cy="927.0" r="10.2"/>
<circle cx="607.7" cy="934.4" r="10.2"/>
<circle cx="581.5" cy="919.3" r="10.2"/>
<circle cx="579.3" cy="963.5" r="10.2"/>
<circle cx="574.5" cy="942.0" r="10.2"/>
<circle cx="583.2" cy="923.4" r="10.2"/>
<circle cx="579.1" cy="950.4" r="10.2"/>
<circle cx="581.5" cy="953.7" r="10.2"/>
<circle cx="606.6" cy="927.4" r="10.2"/>
<circle cx="586.1" cy="931.9" r="10.2"/>
<circle cx="579.2" cy="927.1" r="10.2"/>
<circle cx="586.1" cy="948.6" r="10.2"/>
<circle cx="590.9" cy="959.2" r="10.2"/>
<circle cx="608.0" cy="944.8" r="10.2"/>
<circle cx="609.0" cy="950.3" r="10.2"/>
<circle cx="580.6" cy="951.2" r="10.2"/>
<circle cx="583.6" cy="955.4" r="10.2"/>
<circle cx="574.9" cy="951.7" r="10.2"/>
<circle cx="576.1" cy="937.0" r="10.2"/>
<circle cx="583.7" cy="927.2" r="10.2"/>
<circle cx="597.6" cy="944.3" r="10.2"/>
<circle cx="597.4" cy="951.4" r="10.2"/>
<circle cx="564.1" cy="958.1" r="10.2"/>
<circle cx="578.8" cy="957.5" r="10.2"/>
<circle cx="594.5" cy="918.2" r="10.2"/>
<circle cx="598.1" cy="911.1" r="10.2"/>
<circle cx="589.8" cy="920.6" r="10.2"/>
<circle cx="591.3" cy="950.5" r="10.2"/>
<circle cx="572.1" cy="958.3" r="10.2"/>
<circle cx="587.6" cy="963.3" r="10.2"/>
<circle cx="586.0" cy="958.0" r="10.2"/>
<circle cx="587.5" cy="935.9" r="10.2"/>
<circle cx="590.4" cy="913.1" r="10.2"/>
<circle cx="586.1" cy="931.8" r="10.2"/>
<circle cx="597.9" cy="914.5" r="10.2"/>
<circle cx="580.5" cy="940.8" r="10.2"/>
<circle cx="596.2" cy="927.2" r="10.2"/>
<circle cx="599.0" cy="908.8" r="10.2"/>
<circle cx="588.6" cy="936.7" r="10.2"/>
<circle cx="601.1" cy="927.9" r="10.2"/>
<circle cx="580.0" cy="937.3" r="10.2"/>
<circle cx="589.5" cy="918.8" r="10.2"/>
<circle cx="570.6" cy="939.8" r="10.2"/>
<circle cx="583.3" cy="932.4" r="10.2"/>
<circle cx="607.6" cy="948.7" r="10.2"/>
<circle cx="607.7" cy="941.8" r="10.2"/>
<circle cx="588.2" cy="950.0" r="10.2"/>
</g>
<g fill="#1b9e77" fill-opacity="0.78">
<circle cx="669.2" cy="691.8" r="10.2"/>
<circle cx="684.8" cy="691.8" r="10.2"/>
<circle cx="702.7" cy="745.4" r="10.2"/>
<circle cx="770.1" cy="691.7" r="10.2"/>
<circle cx="798.7" cy="702.8" r="10.2"/>
<circle cx="840.9" cy="690.8" r="10.2"/>
<circle cx="929.8" cy="728.9" r="10.2"/>
<circle cx="759.0" cy="824.7" r="10.2"/>
<circle cx="787.6" cy="846.9" r="10.2"/>
<circle cx="828.2" cy="857.4" r="10.2"/>
<circle cx="840.3" cy="860.6" r="10.2"/>
<circle cx="704.4" cy="788.4" r="10.2"/>
<circle cx="681.3" cy="797.7" r="10.2"/>
<circle cx="679.6" cy="829.2" r="10.2"/>
<circle cx="698.4" cy="838.0" r="10.2"/>
<circle cx="677.3" cy="843.1" r="10.2"/>
<circle cx="695.7" cy="857.5" r="10.2"/>
<circle cx="676.2" cy="857.5" r="10.2"/>
<circle cx="673.4" cy="867.5" r="10.2"/>
<circle cx="657.7" cy="887.6" r="10.2"/>
<circle cx="677.8" cy="886.9" r="10.2"/>
<circle cx="704.0" cy="894.5" r="10.2"/>
<circle cx="726.2" cy="898.0" r="10.2"/>
<circle cx="718.0" cy="906.3" r="10.2"/>
<circle cx="656.3" cy="900.7" r="10.2"/>
<circle cx="687.5" cy="899.4" r="10.2"/>
<circle cx="776.5" cy="908.0" r="10.2"/>
<circle cx="764.8" cy="912.4" r="10.2"/>
<circle cx="791.4" cy="915.0" r="10.2"/>
<circle cx="744.4" cy="919.5" r="10.2"/>
<circle cx="716.1" cy="930.5" r="10.2"/>
<circle cx="775.9" cy="932.8" r="10.2"/>
<circle cx="782.1" cy="953.4" r="10.2"/>
<circle cx="767.0" cy="959.3" r="10.2"/>
<circle cx="752.6" cy="957.1" r="10.2"/>
<circle cx="737.1" cy="961.5" r="10.2"/>
<circle cx="630.8" cy="974.4" r="10.2"/>
<circle cx="679.2" cy="974.0" r="10.2"/>
<circle cx="630.4" cy="923.9" r="10.2"/>
<circle cx="641.9" cy="915.0" r="10.2"/>
<circle cx="777.5" cy="934.1" r="10.2"/>
<circle cx="760.0" cy="912.0" r="10.2"/>
<circle cx="655.0" cy="966.0" r="10.2"/>
<circle cx="700.0" cy="966.0" r="10.2"/>
<circle cx="670.5" cy="916.7" r="10.2"/>
<circle cx="681.4" cy="925.6" r="10.2"/>
<circle cx="657.5" cy="948.6" r="10.2"/>
<circle cx="655.1" cy="935.6" r="10.2"/>
<circle cx="680.0" cy="926.0" r="10.2"/>
<circle cx="636.0" cy="929.0" r="10.2"/>
<circle cx="698.5" cy="937.5" r="10.2"/>
<circle cx="636.7" cy="949.4" r="10.2"/>
<circle cx="701.2" cy="934.5" r="10.2"/>
<circle cx="681.7" cy="925.7" r="10.2"/>
<circle cx="700.3" cy="934.3" r="10.2"/>
<circle cx="678.6" cy="933.6" r="10.2"/>
<circle cx="684.5" cy="935.1" r="10.2"/>
<circle cx="683.4" cy="953.7" r="10.2"/>
<circle cx="682.4" cy="941.8" r="10.2"/>
<circle cx="689.4" cy="959.1" r="10.2"/>
<circle cx="646.4" cy="962.2" r="10.2"/>
<circle cx="690.3" cy="919.7" r="10.2"/>
<circle cx="681.5" cy="946.1" r="10.2"/>
<circle cx="693.9" cy="925.9" r="10.2"/>
<circle cx="674.6" cy="951.5" r="10.2"/>
<circle cx="655.4" cy="943.5" r="10.2"/>
<circle cx="656.6" cy="943.1" r="10.2"/>
<circle cx="680.5" cy="918.7" r="10.2"/>
<circle cx="637.0" cy="936.5" r="10.2"/>
<circle cx="635.9" cy="958.2" r="10.2"/>
<circle cx="693.0" cy="936.1" r="10.2"/>
<circle cx="701.0" cy="942.3" r="10.2"/>
<circle cx="634.0" cy="945.2" r="10.2"/>
<circle cx="676.8" cy="918.5" r="10.2"/>
<circle cx="705.6" cy="940.9" r="10.2"/>
<circle cx="663.5" cy="959.1" r="10.2"/>
<circle cx="680.7" cy="953.7" r="10.2"/>
<circle cx="644.2" cy="963.2" r="10.2"/>
<circle cx="633.4" cy="930.8" r="10.2"/>
<circle cx="642.0" cy="917.1" r="10.2"/>
<circle cx="639.5" cy="921.8" r="10.2"/>
<circle cx="642.5" cy="963.1" r="10.2"/>
<circle cx="686.2" cy="952.2" r="10.2"/>
<circle cx="687.3" cy="954.9" r="10.2"/>
<circle cx="636.7" cy="926.5" r="10.2"/>
<circle cx="685.8" cy="922.5" r="10.2"/>
<circle cx="687.0" cy="959.9" r="10.2"/>
<circle cx="679.5" cy="929.6" r="10.2"/>
<circle cx="667.1" cy="918.8" r="10.2"/>
<circle cx="651.8" cy="917.2" r="10.2"/>
<circle cx="686.1" cy="963.4" r="10.2"/>
<circle cx="634.1" cy="932.4" r="10.2"/>
<circle cx="693.5" cy="960.1" r="10.2"/>
<circle cx="656.0" cy="928.6" r="10.2"/>
<circle cx="645.3" cy="922.2" r="10.2"/>
<circle cx="669.0" cy="961.1" r="10.2"/>
<circle cx="660.2" cy="936.1" r="10.2"/>
<circle cx="665.5" cy="931.2" r="10.2"/>
<circle cx="643.7" cy="925.3" r="10.2"/>
<circle cx="659.9" cy="932.7" r="10.2"/>
<circle cx="679.6" cy="943.7" r="10.2"/>
<circle cx="661.5" cy="925.9" r="10.2"/>
<circle cx="674.9" cy="949.8" r="10.2"/>
<circle cx="637.5" cy="916.8" r="10.2"/>
<circle cx="685.0" cy="923.9" r="10.2"/>
<circle cx="657.6" cy="934.6" r="10.2"/>
<circle cx="677.5" cy="949.0" r="10.2"/>
<circle cx="664.7" cy="920.9" r="10.2"/>
<circle cx="660.9" cy="930.8" r="10.2"/>
<circle cx="677.5" cy="920.5" r="10.2"/>
<circle cx="692.8" cy="950.3" r="10.2"/>
<circle cx="664.3" cy="935.5" r="10.2"/>
<circle cx="693.4" cy="921.0" r="10.2"/>
<circle cx="636.1" cy="923.6" r="10.2"/>
<circle cx="693.1" cy="921.9" r="10.2"/>
<circle cx="675.3" cy="950.7" r="10.2"/>
<circle cx="696.0" cy="924.9" r="10.2"/>
<circle cx="683.7" cy="919.7" r="10.2"/>
<circle cx="658.7" cy="959.9" r="10.2"/>
<circle cx="674.0" cy="925.3" r="10.2"/>
<circle cx="647.8" cy="927.6" r="10.2"/>
<circle cx="701.9" cy="952.6" r="10.2"/>
<circle cx="677.9" cy="931.1" r="10.2"/>
<circle cx="667.4" cy="954.0" r="10.2"/>
<circle cx="651.9" cy="927.6" r="10.2"/>
<circle cx="691.6" cy="941.7" r="10.2"/>
<circle cx="639.5" cy="924.9" r="10.2"/>
<circle cx="690.1" cy="952.7" r="10.2"/>
<circle cx="675.9" cy="920.5" r="10.2"/>
<circle cx="698.5" cy="938.7" r="10.2"/>
<circle cx="668.3" cy="935.4" r="10.2"/>
<circle cx="647.0" cy="954.7" r="10.2"/>
<circle cx="646.4" cy="930.0" r="10.2"/>
<circle cx="659.8" cy="936.6" r="10.2"/>
<circle cx="662.8" cy="938.9" r="10.2"/>
<circle cx="644.0" cy="961.8" r="10.2"/>
<circle cx="706.8" cy="945.9" r="10.2"/>
<circle cx="640.9" cy="933.3" r="10.2"/>
<circle cx="691.3" cy="956.4" r="10.2"/>
<circle cx="677.2" cy="947.3" r="10.2"/>
<circle cx="671.4" cy="963.0" r="10.2"/>
<circle cx="697.1" cy="940.4" r="10.2"/>
<circle cx="675.0" cy="951.3" r="10.2"/>
<circle cx="690.7" cy="943.3" r="10.2"/>
<circle cx="693.6" cy="917.3" r="10.2"/>
<circle cx="651.8" cy="962.2" r="10.2"/>
<circle cx="647.9" cy="955.2" r="10.2"/>
<circle cx="639.2" cy="961.5" r="10.2"/>
<circle cx="674.2" cy="921.8" r="10.2"/>
<circle cx="666.9" cy="918.1" r="10.2"/>
<circle cx="700.3" cy="960.9" r="10.2"/>
<circle cx="677.3" cy="944.7" r="10.2"/>
<circle cx="641.9" cy="917.5" r="10.2"/>
<circle cx="652.0" cy="936.6" r="10.2"/>
<circle cx="680.4" cy="917.6" r="10.2"/>
<circle cx="682.6" cy="944.9" r="10.2"/>
<circle cx="666.2" cy="956.3" r="10.2"/>
<circle cx="649.4" cy="962.1" r="10.2"/>
<circle cx="651.9" cy="946.9" r="10.2"/>
<circle cx="695.0" cy="961.7" r="10.2"/>
<circle cx="691.2" cy="929.6" r="10.2"/>
<circle cx="637.1" cy="957.0" r="10.2"/>
<circle cx="688.9" cy="918.4" r="10.2"/>
<circle cx="683.1" cy="949.5" r="10.2"/>
<circle cx="676.8" cy="927.2" r="10.2"/>
<circle cx="640.8" cy="948.3" r="10.2"/>
<circle cx="652.0" cy="958.0" r="10.2"/>
<circle cx="668.6" cy="955.8" r="10.2"/>
<circle cx="650.6" cy="957.1" r="10.2"/>
<circle cx="683.1" cy="963.4" r="10.2"/>
<circle cx="686.1" cy="954.5" r="10.2"/>
<circle cx="649.3" cy="918.7" r="10.2"/>
<circle cx="643.3" cy="942.3" r="10.2"/>
<circle cx="640.2" cy="919.0" r="10.2"/>
<circle cx="695.3" cy="933.5" r="10.2"/>
<circle cx="666.5" cy="947.5" r="10.2"/>
<circle cx="693.9" cy="940.8" r="10.2"/>
<circle cx="679.5" cy="957.1" r="10.2"/>
<circle cx="649.4" cy="961.2" r="10.2"/>
<circle cx="685.8" cy="937.2" r="10.2"/>
<circle cx="643.7" cy="921.8" r="10.2"/>
<circle cx="652.7" cy="944.0" r="10.2"/>
<circle cx="644.5" cy="950.9" r="10.2"/>
<circle cx="695.1" cy="947.8" r="10.2"/>
<circle cx="645.4" cy="940.2" r="10.2"/>
<circle cx="656.5" cy="920.2" r="10.2"/>
<circle cx="641.4" cy="916.5" r="10.2"/>
<circle cx="637.2" cy="920.6" r="10.2"/>
<circle cx="682.5" cy="953.8" r="10.2"/>
<circle cx="668.3" cy="950.1" r="10.2"/>
<circle cx="652.1" cy="954.2" r="10.2"/>
<circle cx="660.0" cy="915.9" r="10.2"/>
<circle cx="640.2" cy="950.0" r="10.2"/>
<circle cx="699.3" cy="961.2" r="10.2"/>
<circle cx="686.8" cy="949.8" r="10.2"/>
<circle cx="692.7" cy="947.5" r="10.2"/>
<circle cx="643.4" cy="963.9" r="10.2"/>
<circle cx="694.6" cy="938.5" r="10.2"/>
<circle cx="646.8" cy="942.9" r="10.2"/>
<circle cx="700.5" cy="953.4" r="10.2"/>
<circle cx="675.3" cy="957.3" r="10.2"/>
<circle cx="646.3" cy="926.6" r="10.2"/>
<circle cx="685.7" cy="954.5" r="10.2"/>
<circle cx="638.9" cy="959.8" r="10.2"/>
<circle cx="678.0" cy="940.0" r="10.2"/>
<circle cx="653.3" cy="954.0" r="10.2"/>
<circle cx="678.3" cy="929.7" r="10.2"/>
<circle cx="693.1" cy="935.7" r="10.2"/>
<circle cx="648.0" cy="960.8" r="10.2"/>
<circle cx="687.2" cy="944.2" r="10.2"/>
<circle cx="686.4" cy="961.3" r="10.2"/>
<circle cx="693.0" cy="947.7" r="10.2"/>
<circle cx="695.3" cy="922.1" r="10.2"/>
<circle cx="669.5" cy="963.3" r="10.2"/>
<circle cx="700.4" cy="940.9" r="10.2"/>
<circle cx="697.5" cy="951.1" r="10.2"/>
<circle cx="646.8" cy="923.7" r="10.2"/>
<circle cx="660.2" cy="956.1" r="10.2"/>
<circle cx="660.5" cy="935.1" r="10.2"/>
<circle cx="633.3" cy="938.8" r="10.2"/>
<circle cx="666.0" cy="939.0" r="10.2"/>
<circle cx="641.9" cy="929.3" r="10.2"/>
<circle cx="693.4" cy="922.0" r="10.2"/>
<circle cx="656.8" cy="929.5" r="10.2"/>
<circle cx="661.2" cy="927.6" r="10.2"/>
<circle cx="637.5" cy="921.7" r="10.2"/>
<circle cx="703.6" cy="940.0" r="10.2"/>
<circle cx="671.0" cy="938.3" r="10.2"/>
<circle cx="672.8" cy="963.0" r="10.2"/>
<circle cx="704.6" cy="953.2" r="10.2"/>
<circle cx="646.5" cy="959.0" r="10.2"/>
<circle cx="651.5" cy="924.4" r="10.2"/>
<circle cx="635.2" cy="959.3" r="10.2"/>
<circle cx="684.7" cy="954.5" r="10.2"/>
<circle cx="634.3" cy="934.9" r="10.2"/>
<circle cx="675.7" cy="938.6" r="10.2"/>
<circle cx="685.0" cy="959.0" r="10.2"/>
<circle cx="697.3" cy="929.2" r="10.2"/>
<circle cx="636.3" cy="958.0" r="10.2"/>
<circle cx="669.5" cy="939.7" r="10.2"/>
<circle cx="653.7" cy="958.1" r="10.2"/>
<circle cx="663.0" cy="957.4" r="10.2"/>
<circle cx="676.8" cy="922.2" r="10.2"/>
<circle cx="643.9" cy="936.2" r="10.2"/>
<circle cx="688.2" cy="956.0" r="10.2"/>
<circle cx="694.1" cy="918.5" r="10.2"/>
<circle cx="661.8" cy="943.6" r="10.2"/>
<circle cx="695.1" cy="938.5" r="10.2"/>
<circle cx="662.3" cy="918.3" r="10.2"/>
<circle cx="690.5" cy="947.6" r="10.2"/>
<circle cx="650.8" cy="947.7" r="10.2"/>
<circle cx="665.2" cy="916.4" r="10.2"/>
<circle cx="692.5" cy="919.7" r="10.2"/>
<circle cx="693.3" cy="922.9" r="10.2"/>
<circle cx="637.0" cy="938.9" r="10.2"/>
<circle cx="651.4" cy="943.5" r="10.2"/>
<circle cx="679.8" cy="946.3" r="10.2"/>
<circle cx="672.3" cy="960.6" r="10.2"/>
<circle cx="665.0" cy="939.5" r="10.2"/>
<circle cx="634.5" cy="957.2" r="10.2"/>
<circle cx="702.3" cy="933.3" r="10.2"/>
<circle cx="692.9" cy="921.1" r="10.2"/>
<circle cx="698.5" cy="962.3" r="10.2"/>
<circle cx="680.5" cy="951.1" r="10.2"/>
<circle cx="683.2" cy="950.7" r="10.2"/>
<circle cx="673.1" cy="919.2" r="10.2"/>
<circle cx="679.0" cy="951.8" r="10.2"/>
<circle cx="671.5" cy="943.0" r="10.2"/>
<circle cx="703.4" cy="950.1" r="10.2"/>
<circle cx="655.6" cy="932.6" r="10.2"/>
<circle cx="641.9" cy="935.2" r="10.2"/>
<circle cx="703.8" cy="939.1" r="10.2"/>
<circle cx="652.9" cy="941.4" r="10.2"/>
<circle cx="672.5" cy="956.8" r="10.2"/>
<circle cx="642.2" cy="957.6" r="10.2"/>
<circle cx="654.7" cy="944.3" r="10.2"/>
<circle cx="654.3" cy="952.2" r="10.2"/>
<circle cx="639.5" cy="937.5" r="10.2"/>
<circle cx="695.1" cy="934.4" r="10.2"/>
<circle cx="675.2" cy="932.5" r="10.2"/>
<circle cx="647.9" cy="929.5" r="10.2"/>
<circle cx="667.1" cy="937.4" r="10.2"/>
<circle cx="678.3" cy="941.3" r="10.2"/>
<circle cx="656.0" cy="952.3" r="10.2"/>
<circle cx="649.4" cy="939.1" r="10.2"/>
<circle cx="661.4" cy="935.6" r="10.2"/>
<circle cx="633.9" cy="946.9" r="10.2"/>
<circle cx="696.8" cy="952.4" r="10.2"/>
<circle cx="674.2" cy="940.2" r="10.2"/>
<circle cx="654.1" cy="916.1" r="10.2"/>
<circle cx="654.9" cy="926.6" r="10.2"/>
<circle cx="644.7" cy="960.8" r="10.2"/>
<circle cx="697.5" cy="942.7" r="10.2"/>
<circle cx="637.6" cy="945.2" r="10.2"/>
<circle cx="665.6" cy="928.3" r="10.2"/>
<circle cx="641.1" cy="953.1" r="10.2"/>
<circle cx="644.4" cy="947.7" r="10.2"/>
<circle cx="659.1" cy="931.2" r="10.2"/>
<circle cx="678.6" cy="922.8" r="10.2"/>
<circle cx="693.8" cy="938.9" r="10.2"/>
<circle cx="687.7" cy="928.0" r="10.2"/>
<circle cx="689.2" cy="941.0" r="10.2"/>
<circle cx="691.1" cy="929.6" r="10.2"/>
<circle cx="700.7" cy="957.8" r="10.2"/>
<circle cx="697.4" cy="963.8" r="10.2"/>
<circle cx="689.7" cy="935.6" r="10.2"/>
<circle cx="669.8" cy="917.3" r="10.2"/>
<circle cx="675.3" cy="943.7" r="10.2"/>
<circle cx="691.0" cy="921.7" r="10.2"/>
<circle cx="677.9" cy="945.6" r="10.2"/>
<circle cx="666.5" cy="941.8" r="10.2"/>
<circle cx="686.5" cy="949.8" r="10.2"/>
<circle cx="661.9" cy="937.1" r="10.2"/>
<circle cx="661.5" cy="948.4" r="10.2"/>
<circle cx="691.2" cy="922.8" r="10.2"/>
<circle cx="670.0" cy="942.5" r="10.2"/>
<circle cx="646.6" cy="949.3" r="10.2"/>
<circle cx="643.7" cy="936.1" r="10.2"/>
<circle cx="676.0" cy="959.7" r="10.2"/>
<circle cx="701.1" cy="948.3" r="10.2"/>
<circle cx="695.4" cy="923.3" r="10.2"/>
<circle cx="703.9" cy="954.1" r="10.2"/>
<circle cx="664.6" cy="919.8" r="10.2"/>
<circle cx="674.8" cy="939.9" r="10.2"/>
<circle cx="701.1" cy="926.5" r="10.2"/>
<circle cx="671.3" cy="938.9" r="10.2"/>
<circle cx="683.7" cy="945.1" r="10.2"/>
<circle cx="659.5" cy="935.2" r="10.2"/>
<circle cx="659.0" cy="918.0" r="10.2"/>
<circle cx="683.1" cy="938.5" r="10.2"/>
<circle cx="640.3" cy="945.8" r="10.2"/>
<circle cx="662.7" cy="936.8" r="10.2"/>
<circle cx="675.5" cy="921.3" r="10.2"/>
<circle cx="704.4" cy="940.4" r="10.2"/>
<circle cx="665.6" cy="933.7" r="10.2"/>
<circle cx="706.7" cy="947.4" r="10.2"/>
<circle cx="672.2" cy="924.4" r="10.2"/>
<circle cx="645.6" cy="948.6" r="10.2"/>
<circle cx="670.9" cy="958.6" r="10.2"/>
<circle cx="699.2" cy="930.5" r="10.2"/>
<circle cx="698.7" cy="943.6" r="10.2"/>
<circle cx="644.6" cy="949.9" r="10.2"/>
<circle cx="670.9" cy="939.5" r="10.2"/>
<circle cx="646.9" cy="955.2" r="10.2"/>
<circle cx="679.6" cy="934.7" r="10.2"/>
<circle cx="680.1" cy="961.9" r="10.2"/>
<circle cx="663.4" cy="925.8" r="10.2"/>
<circle cx="655.7" cy="930.5" r="10.2"/>
<circle cx="695.3" cy="935.6" r="10.2"/>
<circle cx="682.4" cy="954.5" r="10.2"/>
<circle cx="669.8" cy="937.2" r="10.2"/>
<circle cx="652.7" cy="932.6" r="10.2"/>
<circle cx="675.5" cy="944.1" r="10.2"/>
<circle cx="642.0" cy="956.4" r="10.2"/>
<circle cx="689.2" cy="958.8" r="10.2"/>
<circle cx="640.4" cy="955.7" r="10.2"/>
<circle cx="671.7" cy="924.1" r="10.2"/>
<circle cx="678.4" cy="924.9" r="10.2"/>
<circle cx="637.6" cy="963.4" r="10.2"/>
<circle cx="690.0" cy="948.3" r="10.2"/>
<circle cx="685.9" cy="946.8" r="10.2"/>
<circle cx="645.5" cy="951.1" r="10.2"/>
<circle cx="640.4" cy="920.2" r="10.2"/>
<circle cx="676.1" cy="947.1" r="10.2"/>
<circle cx="666.3" cy="945.3" r="10.2"/>
<circle cx="637.0" cy="920.8" r="10.2"/>
<circle cx="676.1" cy="917.5" r="10.2"/>
<circle cx="665.5" cy="933.9" r="10.2"/>
<circle cx="651.5" cy="961.9" r="10.2"/>
<circle cx="656.3" cy="920.4" r="10.2"/>
<circle cx="693.4" cy="949.3" r="10.2"/>
<circle cx="677.6" cy="917.4" r="10.2"/>
<circle cx="669.7" cy="917.9" r="10.2"/>
<circle cx="651.0" cy="945.1" r="10.2"/>
<circle cx="760.2" cy="950.8" r="10.2"/>
<circle cx="742.8" cy="929.7" r="10.2"/>
<circle cx="725.0" cy="952.6" r="10.2"/>
<circle cx="733.5" cy="952.1" r="10.2"/>
<circle cx="778.9" cy="948.2" r="10.2"/>
<circle cx="748.6" cy="954.7" r="10.2"/>
<circle cx="746.5" cy="944.7" r="10.2"/>
<circle cx="736.8" cy="956.6" r="10.2"/>
<circle cx="733.0" cy="949.9" r="10.2"/>
<circle cx="721.1" cy="948.5" r="10.2"/>
<circle cx="724.6" cy="957.7" r="10.2"/>
<circle cx="756.2" cy="946.4" r="10.2"/>
<circle cx="713.9" cy="949.0" r="10.2"/>
<circle cx="766.6" cy="953.1" r="10.2"/>
<circle cx="744.4" cy="950.6" r="10.2"/>
<circle cx="740.5" cy="954.2" r="10.2"/>
<circle cx="759.3" cy="949.4" r="10.2"/>
<circle cx="773.6" cy="937.3" r="10.2"/>
<circle cx="734.2" cy="949.9" r="10.2"/>
<circle cx="752.0" cy="951.1" r="10.2"/>
<circle cx="745.0" cy="938.9" r="10.2"/>
<circle cx="735.5" cy="934.7" r="10.2"/>
<circle cx="749.0" cy="947.5" r="10.2"/>
<circle cx="735.9" cy="955.8" r="10.2"/>
<circle cx="715.1" cy="938.2" r="10.2"/>
<circle cx="733.7" cy="940.5" r="10.2"/>
<circle cx="729.0" cy="956.6" r="10.2"/>
<circle cx="730.0" cy="950.6" r="10.2"/>
<circle cx="727.9" cy="944.1" r="10.2"/>
<circle cx="716.8" cy="948.8" r="10.2"/>
<circle cx="709.2" cy="933.9" r="10.2"/>
<circle cx="756.1" cy="946.0" r="10.2"/>
<circle cx="737.5" cy="934.6" r="10.2"/>
<circle cx="758.7" cy="949.8" r="10.2"/>
<circle cx="769.7" cy="946.0" r="10.2"/>
<circle cx="753.5" cy="952.3" r="10.2"/>
<circle cx="761.3" cy="932.6" r="10.2"/>
<circle cx="710.0" cy="957.5" r="10.2"/>
<circle cx="719.0" cy="951.7" r="10.2"/>
<circle cx="729.4" cy="944.9" r="10.2"/>
<circle cx="709.9" cy="947.5" r="10.2"/>
<circle cx="754.2" cy="952.4" r="10.2"/>
<circle cx="769.1" cy="937.9" r="10.2"/>
<circle cx="760.0" cy="949.6" r="10.2"/>
<circle cx="739.2" cy="933.7" r="10.2"/>
<circle cx="768.7" cy="930.3" r="10.2"/>
<circle cx="728.2" cy="957.4" r="10.2"/>
<circle cx="770.2" cy="936.5" r="10.2"/>
<circle cx="710.5" cy="950.0" r="10.2"/>
<circle cx="758.4" cy="944.4" r="10.2"/>
<circle cx="762.3" cy="928.3" r="10.2"/>
<circle cx="727.8" cy="955.7" r="10.2"/>
<circle cx="777.0" cy="943.3" r="10.2"/>
<circle cx="761.7" cy="928.3" r="10.2"/>
<circle cx="753.5" cy="942.2" r="10.2"/>
<circle cx="738.7" cy="940.1" r="10.2"/>
<circle cx="759.0" cy="929.2" r="10.2"/>
<circle cx="726.3" cy="938.8" r="10.2"/>
<circle cx="747.3" cy="949.8" r="10.2"/>
<circle cx="711.4" cy="945.8" r="10.2"/>
<circle cx="737.5" cy="951.5" r="10.2"/>
<circle cx="730.0" cy="953.9" r="10.2"/>
<circle cx="759.3" cy="934.2" r="10.2"/>
<circle cx="724.6" cy="950.1" r="10.2"/>
<circle cx="745.1" cy="942.5" r="10.2"/>
<circle cx="776.3" cy="946.0" r="10.2"/>
<circle cx="717.5" cy="938.2" r="10.2"/>
<circle cx="747.6" cy="930.9" r="10.2"/>
<circle cx="751.3" cy="941.9" r="10.2"/>
<circle cx="763.7" cy="928.2" r="10.2"/>
<circle cx="715.5" cy="948.3" r="10.2"/>
<circle cx="733.7" cy="951.4" r="10.2"/>
<circle cx="711.5" cy="948.6" r="10.2"/>
<circle cx="740.2" cy="954.8" r="10.2"/>
<circle cx="731.0" cy="941.7" r="10.2"/>
</g>
<g stroke="#000" stroke-width="1.6"><line x1="427.2" y1="691.5" x2="461.8" y2="706.4"/><line x1="840.9" y1="690.8" x2="880.3" y2="676.5"/></g>
<g fill="#000">
<text x="369.5" y="683.7" font-size="42.3" stroke="#000" stroke-width="0.5">Cd74</text>
<text x="466.5" y="730.5" font-size="40.3" stroke="#000" stroke-width="0.5">Ass1</text>
<text x="393.5" y="757.6" font-size="40.8" stroke="#000" stroke-width="0.5">Ninj1</text>
<text x="232" y="730" font-size="42.8" stroke="#000" stroke-width="0.5">Adgre5</text>
<text x="236" y="885" font-size="42.8" stroke="#000" stroke-width="0.5">Vipas39</text>
<text x="885" y="683.5" font-size="40.6" stroke="#000" stroke-width="0.5">Mrc1</text>
<text x="760" y="712.4" font-size="40.4" stroke="#000" stroke-width="0.5">Stab1</text>
<text x="939" y="762.2" font-size="42.6" stroke="#000" stroke-width="0.5">Ctsl</text>
<text x="825" y="850.4" font-size="41" stroke="#000" stroke-width="0.5">Gpaa1</text>
<text x="850.5" y="893.9" font-size="42.6" stroke="#000" stroke-width="0.5">Tfrc</text>
</g>
<rect x="171.5" y="646.5" width="910.5" height="354.5" fill="none" stroke="#b3b3b3" stroke-width="1.4"/>
<line x1="166.0" x2="171.5" y1="986.0" y2="986.0" stroke="#b3b3b3" stroke-width="1.4"/>
<text x="162.6" y="1002.0" font-size="44.5" fill="#4d4d4d" text-anchor="end">0</text>
<line x1="166.0" x2="171.5" y1="887.8" y2="887.8" stroke="#b3b3b3" stroke-width="1.4"/>
<text x="162.6" y="903.8" font-size="44.5" fill="#4d4d4d" text-anchor="end">10</text>
<line x1="166.0" x2="171.5" y1="789.6" y2="789.6" stroke="#b3b3b3" stroke-width="1.4"/>
<text x="162.6" y="805.6" font-size="44.5" fill="#4d4d4d" text-anchor="end">20</text>
<line x1="166.0" x2="171.5" y1="691.4" y2="691.4" stroke="#b3b3b3" stroke-width="1.4"/>
<text x="162.6" y="707.4" font-size="44.5" fill="#4d4d4d" text-anchor="end">30</text>
<text x="94.2" y="706.5" font-size="40" fill="#222" text-anchor="middle">≥</text>
<line x1="372.5" x2="372.5" y1="1001" y2="1006.5" stroke="#b3b3b3" stroke-width="1.4"/>
<text x="372.5" y="1042" font-size="44.5" fill="#4d4d4d" text-anchor="middle">−4</text>
<line x1="628.0" x2="628.0" y1="1001" y2="1006.5" stroke="#b3b3b3" stroke-width="1.4"/>
<text x="628.0" y="1042" font-size="44.5" fill="#4d4d4d" text-anchor="middle">0</text>
<line x1="883.5" x2="883.5" y1="1001" y2="1006.5" stroke="#b3b3b3" stroke-width="1.4"/>
<text x="883.5" y="1042" font-size="44.5" fill="#4d4d4d" text-anchor="middle">4</text>
<text x="333.6" y="1101.8" font-size="59.1" fill="#000">High / low uptake, log<tspan font-size="40" dy="9.8" dx="1">2</tspan></text>
<text transform="translate(59,992.5) rotate(-90)" font-size="59.5" fill="#000">−log<tspan font-size="39" dy="9.8">10</tspan><tspan dy="-9.8"> (q val)</tspan></text>
</g>
<g>
<line x1="266.4" x2="266.4" y1="1293.5" y2="1638.6" stroke="#ececec" stroke-width="0.8"/>
<line x1="372.4" x2="372.4" y1="1293.5" y2="1638.6" stroke="#ececec" stroke-width="0.8"/>
<line x1="478.6" x2="478.6" y1="1293.5" y2="1638.6" stroke="#ececec" stroke-width="0.8"/>
<line x1="170.5" x2="539.4" y1="1341.5" y2="1341.5" stroke="#ececec" stroke-width="0.8"/>
<line x1="170.5" x2="539.4" y1="1420.1" y2="1420.1" stroke="#ececec" stroke-width="0.8"/>
<line x1="170.5" x2="539.4" y1="1498.9" y2="1498.9" stroke="#ececec" stroke-width="0.8"/>
<line x1="170.5" x2="539.4" y1="1577.6" y2="1577.6" stroke="#ececec" stroke-width="0.8"/>
<line x1="213.3" x2="213.3" y1="1293.5" y2="1638.6" stroke="#e0e0e0" stroke-width="1.2"/>
<line x1="319.4" x2="319.4" y1="1293.5" y2="1638.6" stroke="#e0e0e0" stroke-width="1.2"/>
<line x1="425.5" x2="425.5" y1="1293.5" y2="1638.6" stroke="#e0e0e0" stroke-width="1.2"/>
<line x1="531.6" x2="531.6" y1="1293.5" y2="1638.6" stroke="#e0e0e0" stroke-width="1.2"/>
<line x1="170.5" x2="539.4" y1="1302.2" y2="1302.2" stroke="#e0e0e0" stroke-width="1.2"/>
<line x1="170.5" x2="539.4" y1="1380.8" y2="1380.8" stroke="#e0e0e0" stroke-width="1.2"/>
<line x1="170.5" x2="539.4" y1="1459.5" y2="1459.5" stroke="#e0e0e0" stroke-width="1.2"/>
<line x1="170.5" x2="539.4" y1="1538.2" y2="1538.2" stroke="#e0e0e0" stroke-width="1.2"/>
<line x1="170.5" x2="539.4" y1="1617" y2="1617" stroke="#e0e0e0" stroke-width="1.2"/>
<circle cx="210.5" cy="1432.3" r="8.7" fill="rgb(231,31,26)" fill-opacity="0.85"/>
<circle cx="335.5" cy="1449.5" r="8.7" fill="rgb(49,79,179)" fill-opacity="0.85"/>
<circle cx="340.0" cy="1483.5" r="8.7" fill="rgb(31,55,157)" fill-opacity="0.85"/>
<circle cx="378.5" cy="1469.5" r="8.7" fill="rgb(249,200,181)" fill-opacity="0.85"/>
<circle cx="324.5" cy="1451.5" r="8.7" fill="rgb(239,84,55)" fill-opacity="0.85"/>
<circle cx="275.1" cy="1343.1" r="8.7" fill="rgb(247,161,131)" fill-opacity="0.85"/>
<circle cx="244.3" cy="1336.7" r="8.7" fill="rgb(253,241,235)" fill-opacity="0.85"/>
<circle cx="253.0" cy="1360.8" r="8.7" fill="rgb(114,102,188)" fill-opacity="0.85"/>
<circle cx="274.2" cy="1371.7" r="8.7" fill="rgb(253,241,235)" fill-opacity="0.85"/>
<circle cx="319.1" cy="1370.4" r="8.7" fill="rgb(114,102,188)" fill-opacity="0.85"/>
<circle cx="327.0" cy="1377.8" r="8.7" fill="rgb(114,102,188)" fill-opacity="0.85"/>
<circle cx="216.3" cy="1387.4" r="8.7" fill="rgb(204,196,228)" fill-opacity="0.85"/>
<circle cx="264.1" cy="1386.1" r="8.7" fill="rgb(204,196,228)" fill-opacity="0.85"/>
<circle cx="293.2" cy="1385.2" r="8.7" fill="rgb(114,102,188)" fill-opacity="0.85"/>
<circle cx="204.7" cy="1399.0" r="8.7" fill="rgb(249,200,181)" fill-opacity="0.85"/>
<circle cx="277.9" cy="1399.4" r="8.7" fill="rgb(173,157,214)" fill-opacity="0.85"/>
<circle cx="291.4" cy="1397.5" r="8.7" fill="rgb(239,84,55)" fill-opacity="0.85"/>
<circle cx="307.1" cy="1406.4" r="8.7" fill="rgb(173,157,214)" fill-opacity="0.85"/>
<circle cx="323.7" cy="1404.0" r="8.7" fill="rgb(226,220,237)" fill-opacity="0.85"/>
<circle cx="332.9" cy="1404.9" r="8.7" fill="rgb(253,241,235)" fill-opacity="0.85"/>
<circle cx="231.4" cy="1411.9" r="8.7" fill="rgb(114,102,188)" fill-opacity="0.85"/>
<circle cx="256.7" cy="1411.9" r="8.7" fill="rgb(247,161,131)" fill-opacity="0.85"/>
<circle cx="274.2" cy="1419.3" r="8.7" fill="rgb(114,102,188)" fill-opacity="0.85"/>
<circle cx="312.6" cy="1420.6" r="8.7" fill="rgb(247,161,131)" fill-opacity="0.85"/>
<circle cx="321.8" cy="1422.5" r="8.7" fill="rgb(249,200,181)" fill-opacity="0.85"/>
<circle cx="353.2" cy="1419.7" r="8.7" fill="rgb(249,200,181)" fill-opacity="0.85"/>
<circle cx="289.0" cy="1426.7" r="8.7" fill="rgb(249,200,181)" fill-opacity="0.85"/>
<circle cx="205.6" cy="1425.2" r="8.7" fill="rgb(243,120,84)" fill-opacity="0.85"/>
<circle cx="208.4" cy="1431.7" r="8.7" fill="rgb(239,84,55)" fill-opacity="0.85"/>
<circle cx="202.8" cy="1438.1" r="8.7" fill="rgb(247,161,131)" fill-opacity="0.85"/>
<circle cx="228.7" cy="1424.3" r="8.7" fill="rgb(204,196,228)" fill-opacity="0.85"/>
<circle cx="256.7" cy="1432.6" r="8.7" fill="rgb(49,79,179)" fill-opacity="0.85"/>
<circle cx="259.1" cy="1440.0" r="8.7" fill="rgb(82,82,179)" fill-opacity="0.85"/>
<circle cx="284.0" cy="1437.2" r="8.7" fill="rgb(173,157,214)" fill-opacity="0.85"/>
<circle cx="318.1" cy="1430.8" r="8.7" fill="rgb(204,196,228)" fill-opacity="0.85"/>
<circle cx="189.0" cy="1444.0" r="8.7" fill="rgb(249,200,181)" fill-opacity="0.85"/>
<circle cx="228.1" cy="1442.2" r="8.7" fill="rgb(243,120,84)" fill-opacity="0.85"/>
<circle cx="238.8" cy="1436.3" r="8.7" fill="rgb(253,241,235)" fill-opacity="0.85"/>
<circle cx="228.7" cy="1457.5" r="8.7" fill="rgb(231,31,26)" fill-opacity="0.85"/>
<circle cx="244.3" cy="1452.9" r="8.7" fill="rgb(249,200,181)" fill-opacity="0.85"/>
<circle cx="292.3" cy="1451.1" r="8.7" fill="rgb(82,82,179)" fill-opacity="0.85"/>
<circle cx="303.4" cy="1450.1" r="8.7" fill="rgb(243,120,84)" fill-opacity="0.85"/>
<circle cx="312.6" cy="1447.4" r="8.7" fill="rgb(253,241,235)" fill-opacity="0.85"/>
<circle cx="331.0" cy="1446.0" r="8.7" fill="rgb(226,220,237)" fill-opacity="0.85"/>
<circle cx="355.0" cy="1444.6" r="8.7" fill="rgb(243,120,84)" fill-opacity="0.85"/>
<circle cx="366.0" cy="1447.7" r="8.7" fill="rgb(239,84,55)" fill-opacity="0.85"/>
<circle cx="212.0" cy="1469.5" r="8.7" fill="rgb(49,79,179)" fill-opacity="0.85"/>
<circle cx="224.0" cy="1463.0" r="8.7" fill="rgb(173,157,214)" fill-opacity="0.85"/>
<circle cx="242.5" cy="1466.7" r="8.7" fill="rgb(231,31,26)" fill-opacity="0.85"/>
<circle cx="299.7" cy="1467.7" r="8.7" fill="rgb(82,82,179)" fill-opacity="0.85"/>
<circle cx="325.5" cy="1471.3" r="8.7" fill="rgb(239,84,55)" fill-opacity="0.85"/>
<circle cx="350.4" cy="1460.3" r="8.7" fill="rgb(114,102,188)" fill-opacity="0.85"/>
<circle cx="360.6" cy="1475.0" r="8.7" fill="rgb(173,157,214)" fill-opacity="0.85"/>
<circle cx="279.4" cy="1480.6" r="8.7" fill="rgb(231,31,26)" fill-opacity="0.85"/>
<circle cx="198.2" cy="1477.8" r="8.7" fill="rgb(249,200,181)" fill-opacity="0.85"/>
<circle cx="260.9" cy="1458.4" r="8.7" fill="rgb(226,220,237)" fill-opacity="0.85"/>
<circle cx="268.3" cy="1471.3" r="8.7" fill="rgb(249,200,181)" fill-opacity="0.85"/>
<circle cx="308.9" cy="1473.2" r="8.7" fill="rgb(82,82,179)" fill-opacity="0.85"/>
<circle cx="338.4" cy="1480.6" r="8.7" fill="rgb(226,220,237)" fill-opacity="0.85"/>
<circle cx="438.2" cy="1308.6" r="8.7" fill="rgb(146,131,202)" fill-opacity="0.85"/>
<circle cx="472.7" cy="1335.2" r="8.7" fill="rgb(204,196,228)" fill-opacity="0.85"/>
<circle cx="381.5" cy="1401.6" r="8.7" fill="rgb(239,84,55)" fill-opacity="0.85"/>
<circle cx="416.6" cy="1402.2" r="8.7" fill="rgb(173,157,214)" fill-opacity="0.85"/>
<circle cx="413.3" cy="1398.5" r="8.7" fill="rgb(246,243,247)" fill-opacity="0.85"/>
<circle cx="508.8" cy="1399.4" r="8.7" fill="rgb(253,241,235)" fill-opacity="0.85"/>
<circle cx="383.4" cy="1421.5" r="8.7" fill="rgb(146,131,202)" fill-opacity="0.85"/>
<circle cx="397.6" cy="1438.1" r="8.7" fill="rgb(49,79,179)" fill-opacity="0.85"/>
<circle cx="381.0" cy="1441.8" r="8.7" fill="rgb(204,196,228)" fill-opacity="0.85"/>
<circle cx="431.7" cy="1434.5" r="8.7" fill="rgb(173,157,214)" fill-opacity="0.85"/>
<circle cx="433.6" cy="1431.7" r="8.7" fill="rgb(253,241,235)" fill-opacity="0.85"/>
<circle cx="448.0" cy="1435.9" r="8.7" fill="rgb(114,102,188)" fill-opacity="0.85"/>
<circle cx="497.8" cy="1442.2" r="8.7" fill="rgb(114,102,188)" fill-opacity="0.85"/>
<circle cx="479.3" cy="1448.7" r="8.7" fill="rgb(49,79,179)" fill-opacity="0.85"/>
<circle cx="490.8" cy="1446.4" r="8.7" fill="rgb(226,220,237)" fill-opacity="0.85"/>
<circle cx="420.1" cy="1452.5" r="8.7" fill="rgb(243,120,84)" fill-opacity="0.85"/>
<circle cx="444.6" cy="1452.0" r="8.7" fill="rgb(146,131,202)" fill-opacity="0.85"/>
<circle cx="431.7" cy="1460.3" r="8.7" fill="rgb(204,196,228)" fill-opacity="0.85"/>
<circle cx="377.8" cy="1460.3" r="8.7" fill="rgb(114,102,188)" fill-opacity="0.85"/>
<circle cx="362.5" cy="1459.4" r="8.7" fill="rgb(249,200,181)" fill-opacity="0.85"/>
<circle cx="394.4" cy="1471.3" r="8.7" fill="rgb(146,131,202)" fill-opacity="0.85"/>
<circle cx="406.8" cy="1477.8" r="8.7" fill="rgb(146,131,202)" fill-opacity="0.85"/>
<circle cx="466.4" cy="1472.3" r="8.7" fill="rgb(146,131,202)" fill-opacity="0.85"/>
<circle cx="477.5" cy="1481.5" r="8.7" fill="rgb(146,131,202)" fill-opacity="0.85"/>
<circle cx="522.1" cy="1484.3" r="8.7" fill="rgb(246,243,247)" fill-opacity="0.85"/>
<circle cx="238.2" cy="1490.1" r="8.7" fill="rgb(243,120,84)" fill-opacity="0.85"/>
<circle cx="263.3" cy="1484.5" r="8.7" fill="rgb(247,161,131)" fill-opacity="0.85"/>
<circle cx="225.5" cy="1504.4" r="8.7" fill="rgb(239,84,55)" fill-opacity="0.85"/>
<circle cx="221.3" cy="1511.3" r="8.7" fill="rgb(249,200,181)" fill-opacity="0.85"/>
<circle cx="202.8" cy="1489.1" r="8.7" fill="rgb(249,200,181)" fill-opacity="0.85"/>
<circle cx="265.6" cy="1501.1" r="8.7" fill="rgb(246,243,247)" fill-opacity="0.85"/>
<circle cx="285.3" cy="1506.7" r="8.7" fill="rgb(249,200,181)" fill-opacity="0.85"/>
<circle cx="299.3" cy="1515.0" r="8.7" fill="rgb(226,220,237)" fill-opacity="0.85"/>
<circle cx="319.1" cy="1507.6" r="8.7" fill="rgb(249,200,181)" fill-opacity="0.85"/>
<circle cx="341.0" cy="1503.0" r="8.7" fill="rgb(239,84,55)" fill-opacity="0.85"/>
<circle cx="337.9" cy="1521.8" r="8.7" fill="rgb(146,131,202)" fill-opacity="0.85"/>
<circle cx="353.2" cy="1517.7" r="8.7" fill="rgb(249,200,181)" fill-opacity="0.85"/>
<circle cx="342.0" cy="1540.2" r="8.7" fill="rgb(204,196,228)" fill-opacity="0.85"/>
<circle cx="248.6" cy="1519.9" r="8.7" fill="rgb(243,120,84)" fill-opacity="0.85"/>
<circle cx="265.6" cy="1518.7" r="8.7" fill="rgb(249,200,181)" fill-opacity="0.85"/>
<circle cx="258.7" cy="1530.6" r="8.7" fill="rgb(249,200,181)" fill-opacity="0.85"/>
<circle cx="187.1" cy="1555.9" r="8.7" fill="rgb(231,31,26)" fill-opacity="0.85"/>
<circle cx="267.4" cy="1570.9" r="8.7" fill="rgb(173,157,214)" fill-opacity="0.85"/>
<circle cx="238.1" cy="1583.8" r="8.7" fill="rgb(243,120,84)" fill-opacity="0.85"/>
<circle cx="220.4" cy="1623.3" r="8.7" fill="rgb(247,161,131)" fill-opacity="0.85"/>
<circle cx="284.9" cy="1490.1" r="8.7" fill="rgb(226,220,237)" fill-opacity="0.85"/>
<circle cx="318.1" cy="1484.5" r="8.7" fill="rgb(173,157,214)" fill-opacity="0.85"/>
<circle cx="303.0" cy="1493.0" r="8.7" fill="rgb(249,200,181)" fill-opacity="0.85"/>
<circle cx="329.2" cy="1491.9" r="8.7" fill="rgb(249,200,181)" fill-opacity="0.85"/>
<circle cx="356.9" cy="1490.0" r="8.7" fill="rgb(253,241,235)" fill-opacity="0.85"/>
<circle cx="371.4" cy="1489.1" r="8.7" fill="rgb(247,161,131)" fill-opacity="0.85"/>
<circle cx="381.9" cy="1496.5" r="8.7" fill="rgb(246,243,247)" fill-opacity="0.85"/>
<circle cx="418.8" cy="1484.5" r="8.7" fill="rgb(246,243,247)" fill-opacity="0.85"/>
<circle cx="438.5" cy="1493.2" r="8.7" fill="rgb(82,82,179)" fill-opacity="0.85"/>
<circle cx="468.6" cy="1491.9" r="8.7" fill="rgb(204,196,228)" fill-opacity="0.85"/>
<circle cx="497.2" cy="1507.6" r="8.7" fill="rgb(114,102,188)" fill-opacity="0.85"/>
<circle cx="433.6" cy="1511.3" r="8.7" fill="rgb(249,200,181)" fill-opacity="0.85"/>
<circle cx="428.0" cy="1518.7" r="8.7" fill="rgb(173,157,214)" fill-opacity="0.85"/>
<circle cx="460.9" cy="1527.9" r="8.7" fill="rgb(253,241,235)" fill-opacity="0.85"/>
<circle cx="460.9" cy="1516.8" r="8.7" fill="rgb(247,161,131)" fill-opacity="0.85"/>
<circle cx="379.1" cy="1517.4" r="8.7" fill="rgb(173,157,214)" fill-opacity="0.85"/>
<circle cx="365.7" cy="1520.5" r="8.7" fill="rgb(146,131,202)" fill-opacity="0.85"/>
<circle cx="376.4" cy="1533.4" r="8.7" fill="rgb(146,131,202)" fill-opacity="0.85"/>
<circle cx="364.4" cy="1539.5" r="8.7" fill="rgb(146,131,202)" fill-opacity="0.85"/>
<circle cx="232.0" cy="1470.5" r="8.7" fill="rgb(173,157,214)" fill-opacity="0.85"/>
<circle cx="250.6" cy="1469.5" r="8.7" fill="rgb(204,196,228)" fill-opacity="0.85"/>
<circle cx="250.6" cy="1477.8" r="8.7" fill="rgb(173,157,214)" fill-opacity="0.85"/>
<circle cx="275.5" cy="1457.0" r="8.7" fill="rgb(226,220,237)" fill-opacity="0.85"/>
<circle cx="279.6" cy="1470.0" r="8.7" fill="rgb(249,200,181)" fill-opacity="0.85"/>
<circle cx="297.6" cy="1484.7" r="8.7" fill="rgb(226,220,237)" fill-opacity="0.85"/>
<circle cx="265.0" cy="1448.0" r="8.7" fill="rgb(246,243,247)" fill-opacity="0.85"/>
<circle cx="272.0" cy="1446.5" r="8.7" fill="rgb(246,243,247)" fill-opacity="0.85"/>
<circle cx="338.0" cy="1425.2" r="8.7" fill="rgb(253,241,235)" fill-opacity="0.85"/>
<circle cx="347.7" cy="1430.8" r="8.7" fill="rgb(253,241,235)" fill-opacity="0.85"/>
<circle cx="342.1" cy="1466.0" r="8.7" fill="rgb(173,157,214)" fill-opacity="0.85"/>
<rect x="170.5" y="1293.5" width="368.9" height="345.0999999999999" fill="none" stroke="#b0b0b0" stroke-width="1.2"/>
<line x1="213.3" x2="213.3" y1="1638.6" y2="1642.6" stroke="#b0b0b0" stroke-width="1.2"/>
<line x1="319.4" x2="319.4" y1="1638.6" y2="1642.6" stroke="#b0b0b0" stroke-width="1.2"/>
<line x1="425.5" x2="425.5" y1="1638.6" y2="1642.6" stroke="#b0b0b0" stroke-width="1.2"/>
<line x1="531.6" x2="531.6" y1="1638.6" y2="1642.6" stroke="#b0b0b0" stroke-width="1.2"/>
<line x1="166.5" x2="170.5" y1="1302.2" y2="1302.2" stroke="#b0b0b0" stroke-width="1.2"/>
<line x1="166.5" x2="170.5" y1="1380.8" y2="1380.8" stroke="#b0b0b0" stroke-width="1.2"/>
<line x1="166.5" x2="170.5" y1="1459.5" y2="1459.5" stroke="#b0b0b0" stroke-width="1.2"/>
<line x1="166.5" x2="170.5" y1="1538.2" y2="1538.2" stroke="#b0b0b0" stroke-width="1.2"/>
<line x1="166.5" x2="170.5" y1="1617" y2="1617" stroke="#b0b0b0" stroke-width="1.2"/>
<text x="169.7" y="1222.3" font-size="47.9" fill="#cb5298">Low Uptake</text><text x="169.9" y="1273.3" font-size="47.9" fill="#cb5298">Proteins</text>
<text transform="translate(351.9,1680) scale(1,1.05)" font-size="45.3" fill="#000" stroke="#000" stroke-width="0.7" text-anchor="middle">PC1</text>
<text transform="translate(152.9,1465.6) rotate(-90) scale(1,1.05)" font-size="47.2" fill="#000" stroke="#000" stroke-width="0.7" text-anchor="middle">PC4</text>
</g>
<g>
<line x1="808.3" x2="808.3" y1="1293.5" y2="1638.6" stroke="#ececec" stroke-width="0.8"/>
<line x1="914.4" x2="914.4" y1="1293.5" y2="1638.6" stroke="#ececec" stroke-width="0.8"/>
<line x1="1020.5" x2="1020.5" y1="1293.5" y2="1638.6" stroke="#ececec" stroke-width="0.8"/>
<line x1="712.5" x2="1081.6" y1="1341.5" y2="1341.5" stroke="#ececec" stroke-width="0.8"/>
<line x1="712.5" x2="1081.6" y1="1420.1" y2="1420.1" stroke="#ececec" stroke-width="0.8"/>
<line x1="712.5" x2="1081.6" y1="1498.9" y2="1498.9" stroke="#ececec" stroke-width="0.8"/>
<line x1="712.5" x2="1081.6" y1="1577.6" y2="1577.6" stroke="#ececec" stroke-width="0.8"/>
<line x1="755.3" x2="755.3" y1="1293.5" y2="1638.6" stroke="#e0e0e0" stroke-width="1.2"/>
<line x1="861.4" x2="861.4" y1="1293.5" y2="1638.6" stroke="#e0e0e0" stroke-width="1.2"/>
<line x1="967.5" x2="967.5" y1="1293.5" y2="1638.6" stroke="#e0e0e0" stroke-width="1.2"/>
<line x1="1073.6" x2="1073.6" y1="1293.5" y2="1638.6" stroke="#e0e0e0" stroke-width="1.2"/>
<line x1="712.5" x2="1081.6" y1="1302.2" y2="1302.2" stroke="#e0e0e0" stroke-width="1.2"/>
<line x1="712.5" x2="1081.6" y1="1380.8" y2="1380.8" stroke="#e0e0e0" stroke-width="1.2"/>
<line x1="712.5" x2="1081.6" y1="1459.5" y2="1459.5" stroke="#e0e0e0" stroke-width="1.2"/>
<line x1="712.5" x2="1081.6" y1="1538.2" y2="1538.2" stroke="#e0e0e0" stroke-width="1.2"/>
<line x1="712.5" x2="1081.6" y1="1617" y2="1617" stroke="#e0e0e0" stroke-width="1.2"/>
<circle cx="816.6" cy="1343.3" r="8.7" fill="rgb(231,31,26)" fill-opacity="0.85"/>
<circle cx="785.3" cy="1337.0" r="8.7" fill="rgb(246,243,247)" fill-opacity="0.85"/>
<circle cx="794.9" cy="1360.6" r="8.7" fill="rgb(247,161,131)" fill-opacity="0.85"/>
<circle cx="815.7" cy="1370.8" r="8.7" fill="rgb(253,241,235)" fill-opacity="0.85"/>
<circle cx="860.9" cy="1369.9" r="8.7" fill="rgb(253,241,235)" fill-opacity="0.85"/>
<circle cx="868.3" cy="1377.3" r="8.7" fill="rgb(249,200,181)" fill-opacity="0.85"/>
<circle cx="758.1" cy="1387.8" r="8.7" fill="rgb(173,157,214)" fill-opacity="0.85"/>
<circle cx="746.5" cy="1399.0" r="8.7" fill="rgb(146,131,202)" fill-opacity="0.85"/>
<circle cx="805.6" cy="1386.1" r="8.7" fill="rgb(249,200,181)" fill-opacity="0.85"/>
<circle cx="835.1" cy="1385.2" r="8.7" fill="rgb(247,161,131)" fill-opacity="0.85"/>
<circle cx="833.8" cy="1397.5" r="8.7" fill="rgb(173,157,214)" fill-opacity="0.85"/>
<circle cx="817.5" cy="1399.0" r="8.7" fill="rgb(243,120,84)" fill-opacity="0.85"/>
<circle cx="848.9" cy="1405.8" r="8.7" fill="rgb(249,200,181)" fill-opacity="0.85"/>
<circle cx="863.7" cy="1404.4" r="8.7" fill="rgb(247,161,131)" fill-opacity="0.85"/>
<circle cx="874.7" cy="1404.9" r="8.7" fill="rgb(253,241,235)" fill-opacity="0.85"/>
<circle cx="773.3" cy="1411.8" r="8.7" fill="rgb(239,84,55)" fill-opacity="0.85"/>
<circle cx="798.5" cy="1411.9" r="8.7" fill="rgb(239,84,55)" fill-opacity="0.85"/>
<circle cx="816.1" cy="1419.1" r="8.7" fill="rgb(247,161,131)" fill-opacity="0.85"/>
<circle cx="839.7" cy="1419.7" r="8.7" fill="rgb(146,131,202)" fill-opacity="0.85"/>
<circle cx="853.5" cy="1420.2" r="8.7" fill="rgb(120,134,127)" fill-opacity="0.85"/>
<circle cx="770.5" cy="1423.7" r="8.7" fill="rgb(243,120,84)" fill-opacity="0.85"/>
<circle cx="747.4" cy="1425.2" r="8.7" fill="rgb(247,161,131)" fill-opacity="0.85"/>
<circle cx="751.1" cy="1431.7" r="8.7" fill="rgb(239,84,55)" fill-opacity="0.85"/>
<circle cx="747.8" cy="1432.6" r="8.7" fill="rgb(249,200,181)" fill-opacity="0.85"/>
<circle cx="732.5" cy="1444.3" r="8.7" fill="rgb(243,120,84)" fill-opacity="0.85"/>
<circle cx="769.6" cy="1442.4" r="8.7" fill="rgb(249,200,181)" fill-opacity="0.85"/>
<circle cx="799.1" cy="1432.6" r="8.7" fill="rgb(253,241,235)" fill-opacity="0.85"/>
<circle cx="800.9" cy="1439.1" r="8.7" fill="rgb(249,200,181)" fill-opacity="0.85"/>
<circle cx="861.8" cy="1421.5" r="8.7" fill="rgb(246,243,247)" fill-opacity="0.85"/>
<circle cx="860.9" cy="1430.8" r="8.7" fill="rgb(249,200,181)" fill-opacity="0.85"/>
<circle cx="845.2" cy="1435.4" r="8.7" fill="rgb(49,79,179)" fill-opacity="0.85"/>
<circle cx="826.8" cy="1432.6" r="8.7" fill="rgb(253,241,235)" fill-opacity="0.85"/>
<circle cx="818.5" cy="1441.8" r="8.7" fill="rgb(173,157,214)" fill-opacity="0.85"/>
<circle cx="876.6" cy="1436.3" r="8.7" fill="rgb(247,161,131)" fill-opacity="0.85"/>
<circle cx="890.4" cy="1430.8" r="8.7" fill="rgb(247,161,131)" fill-opacity="0.85"/>
<circle cx="881.2" cy="1425.2" r="8.7" fill="rgb(204,196,228)" fill-opacity="0.85"/>
<circle cx="896.0" cy="1444.0" r="8.7" fill="rgb(120,134,127)" fill-opacity="0.85"/>
<circle cx="871.1" cy="1442.7" r="8.7" fill="rgb(249,200,181)" fill-opacity="0.85"/>
<circle cx="852.6" cy="1445.5" r="8.7" fill="rgb(204,196,228)" fill-opacity="0.85"/>
<circle cx="791.7" cy="1449.2" r="8.7" fill="rgb(82,82,179)" fill-opacity="0.85"/>
<circle cx="788.0" cy="1452.9" r="8.7" fill="rgb(243,120,84)" fill-opacity="0.85"/>
<circle cx="765.0" cy="1463.0" r="8.7" fill="rgb(231,31,26)" fill-opacity="0.85"/>
<circle cx="753.3" cy="1469.5" r="8.7" fill="rgb(114,102,188)" fill-opacity="0.85"/>
<circle cx="786.2" cy="1466.7" r="8.7" fill="rgb(243,120,84)" fill-opacity="0.85"/>
<circle cx="794.5" cy="1466.7" r="8.7" fill="rgb(31,55,157)" fill-opacity="0.85"/>
<circle cx="802.8" cy="1460.3" r="8.7" fill="rgb(246,243,247)" fill-opacity="0.85"/>
<circle cx="810.2" cy="1469.5" r="8.7" fill="rgb(246,243,247)" fill-opacity="0.85"/>
<circle cx="819.4" cy="1456.6" r="8.7" fill="rgb(173,157,214)" fill-opacity="0.85"/>
<circle cx="821.2" cy="1480.6" r="8.7" fill="rgb(31,55,157)" fill-opacity="0.85"/>
<circle cx="821.2" cy="1471.3" r="8.7" fill="rgb(243,120,84)" fill-opacity="0.85"/>
<circle cx="842.5" cy="1468.6" r="8.7" fill="rgb(226,220,237)" fill-opacity="0.85"/>
<circle cx="843.4" cy="1457.5" r="8.7" fill="rgb(173,157,214)" fill-opacity="0.85"/>
<circle cx="858.1" cy="1458.4" r="8.7" fill="rgb(173,157,214)" fill-opacity="0.85"/>
<circle cx="873.8" cy="1455.7" r="8.7" fill="rgb(243,120,84)" fill-opacity="0.85"/>
<circle cx="885.8" cy="1464.0" r="8.7" fill="rgb(249,200,181)" fill-opacity="0.85"/>
<circle cx="904.0" cy="1459.4" r="8.7" fill="rgb(173,157,214)" fill-opacity="0.85"/>
<circle cx="902.0" cy="1475.5" r="8.7" fill="rgb(146,131,202)" fill-opacity="0.85"/>
<circle cx="793.6" cy="1477.8" r="8.7" fill="rgb(243,120,84)" fill-opacity="0.85"/>
<circle cx="745.6" cy="1483.3" r="8.7" fill="rgb(243,120,84)" fill-opacity="0.85"/>
<circle cx="865.5" cy="1469.5" r="8.7" fill="rgb(249,200,181)" fill-opacity="0.85"/>
<circle cx="852.6" cy="1475.0" r="8.7" fill="rgb(247,161,131)" fill-opacity="0.85"/>
<circle cx="979.6" cy="1308.6" r="8.7" fill="rgb(204,196,228)" fill-opacity="0.85"/>
<circle cx="1014.6" cy="1335.2" r="8.7" fill="rgb(49,79,179)" fill-opacity="0.85"/>
<circle cx="953.4" cy="1398.3" r="8.7" fill="rgb(231,31,26)" fill-opacity="0.85"/>
<circle cx="923.3" cy="1401.2" r="8.7" fill="rgb(253,241,235)" fill-opacity="0.85"/>
<circle cx="1050.6" cy="1399.4" r="8.7" fill="rgb(253,241,235)" fill-opacity="0.85"/>
<circle cx="908.0" cy="1420.2" r="8.7" fill="rgb(120,134,127)" fill-opacity="0.85"/>
<circle cx="925.5" cy="1421.5" r="8.7" fill="rgb(247,161,131)" fill-opacity="0.85"/>
<circle cx="922.7" cy="1441.8" r="8.7" fill="rgb(247,161,131)" fill-opacity="0.85"/>
<circle cx="939.7" cy="1438.1" r="8.7" fill="rgb(243,120,84)" fill-opacity="0.85"/>
<circle cx="976.6" cy="1429.5" r="8.7" fill="rgb(114,102,188)" fill-opacity="0.85"/>
<circle cx="990.1" cy="1435.4" r="8.7" fill="rgb(146,131,202)" fill-opacity="0.85"/>
<circle cx="986.8" cy="1452.0" r="8.7" fill="rgb(173,157,214)" fill-opacity="0.85"/>
<circle cx="961.5" cy="1452.0" r="8.7" fill="rgb(204,196,228)" fill-opacity="0.85"/>
<circle cx="972.6" cy="1459.9" r="8.7" fill="rgb(247,161,131)" fill-opacity="0.85"/>
<circle cx="1020.9" cy="1448.3" r="8.7" fill="rgb(114,102,188)" fill-opacity="0.85"/>
<circle cx="1032.5" cy="1445.5" r="8.7" fill="rgb(114,102,188)" fill-opacity="0.85"/>
<circle cx="1039.9" cy="1441.8" r="8.7" fill="rgb(204,196,228)" fill-opacity="0.85"/>
<circle cx="908.0" cy="1446.4" r="8.7" fill="rgb(204,196,228)" fill-opacity="0.85"/>
<circle cx="920.0" cy="1460.3" r="8.7" fill="rgb(173,157,214)" fill-opacity="0.85"/>
<circle cx="919.1" cy="1466.7" r="8.7" fill="rgb(146,131,202)" fill-opacity="0.85"/>
<circle cx="948.2" cy="1477.8" r="8.7" fill="rgb(49,79,179)" fill-opacity="0.85"/>
<circle cx="962.4" cy="1483.3" r="8.7" fill="rgb(49,79,179)" fill-opacity="0.85"/>
<circle cx="1019.6" cy="1480.6" r="8.7" fill="rgb(204,196,228)" fill-opacity="0.85"/>
<circle cx="1007.6" cy="1470.4" r="8.7" fill="rgb(246,243,247)" fill-opacity="0.85"/>
<circle cx="1051.9" cy="1478.7" r="8.7" fill="rgb(246,243,247)" fill-opacity="0.85"/>
<circle cx="1066.0" cy="1486.0" r="8.7" fill="rgb(253,241,235)" fill-opacity="0.85"/>
<circle cx="892.3" cy="1459.4" r="8.7" fill="rgb(204,196,228)" fill-opacity="0.85"/>
<circle cx="746.5" cy="1488.8" r="8.7" fill="rgb(247,161,131)" fill-opacity="0.85"/>
<circle cx="763.1" cy="1511.3" r="8.7" fill="rgb(231,31,26)" fill-opacity="0.85"/>
<circle cx="767.7" cy="1503.3" r="8.7" fill="rgb(253,241,235)" fill-opacity="0.85"/>
<circle cx="790.4" cy="1519.9" r="8.7" fill="rgb(249,200,181)" fill-opacity="0.85"/>
<circle cx="807.0" cy="1518.1" r="8.7" fill="rgb(114,102,188)" fill-opacity="0.85"/>
<circle cx="840.6" cy="1515.5" r="8.7" fill="rgb(231,31,26)" fill-opacity="0.85"/>
<circle cx="860.9" cy="1507.6" r="8.7" fill="rgb(146,131,202)" fill-opacity="0.85"/>
<circle cx="881.2" cy="1502.6" r="8.7" fill="rgb(49,79,179)" fill-opacity="0.85"/>
<circle cx="886.7" cy="1492.8" r="8.7" fill="rgb(173,157,214)" fill-opacity="0.85"/>
<circle cx="839.7" cy="1497.4" r="8.7" fill="rgb(146,131,202)" fill-opacity="0.85"/>
<circle cx="810.2" cy="1502.0" r="8.7" fill="rgb(204,196,228)" fill-opacity="0.85"/>
<circle cx="826.8" cy="1507.6" r="8.7" fill="rgb(249,200,181)" fill-opacity="0.85"/>
<circle cx="799.1" cy="1492.8" r="8.7" fill="rgb(247,161,131)" fill-opacity="0.85"/>
<circle cx="805.6" cy="1484.5" r="8.7" fill="rgb(204,196,228)" fill-opacity="0.85"/>
<circle cx="850.8" cy="1490.1" r="8.7" fill="rgb(247,161,131)" fill-opacity="0.85"/>
<circle cx="865.5" cy="1497.4" r="8.7" fill="rgb(204,196,228)" fill-opacity="0.85"/>
<circle cx="880.3" cy="1522.3" r="8.7" fill="rgb(226,220,237)" fill-opacity="0.85"/>
<circle cx="882.7" cy="1540.4" r="8.7" fill="rgb(173,157,214)" fill-opacity="0.85"/>
<circle cx="905.0" cy="1539.2" r="8.7" fill="rgb(146,131,202)" fill-opacity="0.85"/>
<circle cx="729.0" cy="1555.9" r="8.7" fill="rgb(243,120,84)" fill-opacity="0.85"/>
<circle cx="809.2" cy="1570.9" r="8.7" fill="rgb(253,241,235)" fill-opacity="0.85"/>
<circle cx="779.7" cy="1583.8" r="8.7" fill="rgb(247,161,131)" fill-opacity="0.85"/>
<circle cx="762.6" cy="1623.3" r="8.7" fill="rgb(247,161,131)" fill-opacity="0.85"/>
<circle cx="800.9" cy="1530.6" r="8.7" fill="rgb(253,241,235)" fill-opacity="0.85"/>
<circle cx="778.8" cy="1490.0" r="8.7" fill="rgb(253,241,235)" fill-opacity="0.85"/>
<circle cx="871.0" cy="1482.7" r="8.7" fill="rgb(253,241,235)" fill-opacity="0.85"/>
<circle cx="912.6" cy="1489.7" r="8.7" fill="rgb(173,157,214)" fill-opacity="0.85"/>
<circle cx="922.2" cy="1496.0" r="8.7" fill="rgb(146,131,202)" fill-opacity="0.85"/>
<circle cx="898.8" cy="1489.7" r="8.7" fill="rgb(204,196,228)" fill-opacity="0.85"/>
<circle cx="922.7" cy="1506.7" r="8.7" fill="rgb(253,241,235)" fill-opacity="0.85"/>
<circle cx="980.3" cy="1492.8" r="8.7" fill="rgb(226,220,237)" fill-opacity="0.85"/>
<circle cx="1007.5" cy="1492.0" r="8.7" fill="rgb(146,131,202)" fill-opacity="0.85"/>
<circle cx="1039.4" cy="1507.6" r="8.7" fill="rgb(173,157,214)" fill-opacity="0.85"/>
<circle cx="975.3" cy="1511.3" r="8.7" fill="rgb(247,161,131)" fill-opacity="0.85"/>
<circle cx="970.0" cy="1518.7" r="8.7" fill="rgb(173,157,214)" fill-opacity="0.85"/>
<circle cx="1003.0" cy="1516.8" r="8.7" fill="rgb(173,157,214)" fill-opacity="0.85"/>
<circle cx="1003.0" cy="1528.2" r="8.7" fill="rgb(114,102,188)" fill-opacity="0.85"/>
<circle cx="906.5" cy="1520.5" r="8.7" fill="rgb(173,157,214)" fill-opacity="0.85"/>
<circle cx="918.1" cy="1533.4" r="8.7" fill="rgb(146,131,202)" fill-opacity="0.85"/>
<circle cx="934.0" cy="1472.5" r="8.7" fill="rgb(246,243,247)" fill-opacity="0.85"/>
<circle cx="743.8" cy="1484.4" r="8.7" fill="rgb(253,241,235)" fill-opacity="0.85"/>
<circle cx="862.8" cy="1481.6" r="8.7" fill="rgb(249,200,181)" fill-opacity="0.85"/>
<circle cx="826.9" cy="1490.0" r="8.7" fill="rgb(226,220,237)" fill-opacity="0.85"/>
<circle cx="865.6" cy="1488.6" r="8.7" fill="rgb(253,241,235)" fill-opacity="0.85"/>
<rect x="712.5" y="1293.5" width="369.0999999999999" height="345.0999999999999" fill="none" stroke="#b0b0b0" stroke-width="1.2"/>
<line x1="755.3" x2="755.3" y1="1638.6" y2="1642.6" stroke="#b0b0b0" stroke-width="1.2"/>
<line x1="861.4" x2="861.4" y1="1638.6" y2="1642.6" stroke="#b0b0b0" stroke-width="1.2"/>
<line x1="967.5" x2="967.5" y1="1638.6" y2="1642.6" stroke="#b0b0b0" stroke-width="1.2"/>
<line x1="1073.6" x2="1073.6" y1="1638.6" y2="1642.6" stroke="#b0b0b0" stroke-width="1.2"/>
<line x1="708.5" x2="712.5" y1="1302.2" y2="1302.2" stroke="#b0b0b0" stroke-width="1.2"/>
<line x1="708.5" x2="712.5" y1="1380.8" y2="1380.8" stroke="#b0b0b0" stroke-width="1.2"/>
<line x1="708.5" x2="712.5" y1="1459.5" y2="1459.5" stroke="#b0b0b0" stroke-width="1.2"/>
<line x1="708.5" x2="712.5" y1="1538.2" y2="1538.2" stroke="#b0b0b0" stroke-width="1.2"/>
<line x1="708.5" x2="712.5" y1="1617" y2="1617" stroke="#b0b0b0" stroke-width="1.2"/>
<text x="711.7" y="1222.3" font-size="47.9" fill="#118560">High Uptake</text><text x="711.9" y="1273.3" font-size="47.9" fill="#118560">Proteins</text>
<text transform="translate(894.0,1680) scale(1,1.05)" font-size="45.3" fill="#000" stroke="#000" stroke-width="0.7" text-anchor="middle">PC1</text>
<text transform="translate(694.9,1465.6) rotate(-90) scale(1,1.05)" font-size="47.2" fill="#000" stroke="#000" stroke-width="0.7" text-anchor="middle">PC4</text>
</g>
</svg></body></html>
